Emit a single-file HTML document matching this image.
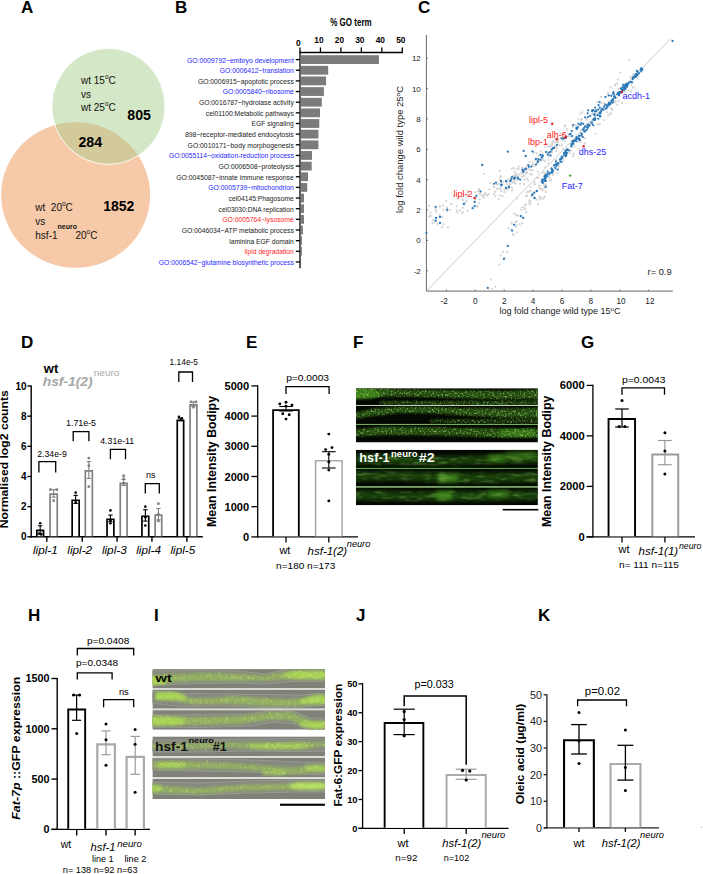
<!DOCTYPE html><html><head><meta charset="utf-8"><style>html,body{margin:0;padding:0;background:#fff;width:703px;height:874px;overflow:hidden;}svg{display:block;}text{font-family:"Liberation Sans",sans-serif;}</style></head><body>
<svg width="703" height="874" viewBox="0 0 703 874">
<text x="21" y="13" font-size="17" font-weight="bold" font-style="normal" fill="#000" text-anchor="start" >A</text>
<text x="175" y="13" font-size="17" font-weight="bold" font-style="normal" fill="#000" text-anchor="start" >B</text>
<text x="418" y="13" font-size="17" font-weight="bold" font-style="normal" fill="#000" text-anchor="start" >C</text>
<text x="21" y="348" font-size="17" font-weight="bold" font-style="normal" fill="#000" text-anchor="start" >D</text>
<text x="246" y="348" font-size="17" font-weight="bold" font-style="normal" fill="#000" text-anchor="start" >E</text>
<text x="353" y="348" font-size="17" font-weight="bold" font-style="normal" fill="#000" text-anchor="start" >F</text>
<text x="581" y="348" font-size="17" font-weight="bold" font-style="normal" fill="#000" text-anchor="start" >G</text>
<text x="28" y="621" font-size="17" font-weight="bold" font-style="normal" fill="#000" text-anchor="start" >H</text>
<text x="154" y="621" font-size="17" font-weight="bold" font-style="normal" fill="#000" text-anchor="start" >I</text>
<text x="356" y="621" font-size="17" font-weight="bold" font-style="normal" fill="#000" text-anchor="start" >J</text>
<text x="538" y="621" font-size="17" font-weight="bold" font-style="normal" fill="#000" text-anchor="start" >K</text>
<defs><clipPath id="co"><ellipse cx="75.65" cy="195" rx="74.5" ry="72.8"/></clipPath></defs>
<ellipse cx="75.65" cy="195" rx="74.5" ry="72.8" fill="#f6c9a8"/>
<ellipse cx="108.4" cy="106.4" rx="56.6" ry="58" fill="#d4e7c6"/>
<ellipse cx="108.4" cy="106.4" rx="56.6" ry="58" fill="#d3ca9b" clip-path="url(#co)"/>
<ellipse cx="108.4" cy="106.4" rx="56.6" ry="58" fill="none" stroke="#fff" stroke-width="0.9"/>
<text x="81" y="84.4" font-size="10" fill="#111">wt 15<tspan font-size="6.5" dy="-5">o</tspan><tspan dy="5">C</tspan></text>
<text x="81" y="97.6" font-size="10" font-weight="normal" font-style="normal" fill="#111" text-anchor="start" >vs</text>
<text x="81" y="111.2" font-size="10" fill="#111">wt 25<tspan font-size="6.5" dy="-5">o</tspan><tspan dy="5">C</tspan></text>
<text x="127.3" y="119.6" font-size="14.2" font-weight="bold" font-style="normal" fill="#000" text-anchor="start" >805</text>
<text x="78.4" y="147.0" font-size="14.2" font-weight="bold" font-style="normal" fill="#000" text-anchor="start" >284</text>
<text x="35.3" y="211.3" font-size="10" fill="#111">wt&#160; 20<tspan font-size="6.5" dy="-5">o</tspan><tspan dy="5">C</tspan></text>
<text x="103.2" y="210.9" font-size="14.0" font-weight="bold" font-style="normal" fill="#000" text-anchor="start" >1852</text>
<text x="35.3" y="225" font-size="10" font-weight="normal" font-style="normal" fill="#111" text-anchor="start" >vs</text>
<text x="35.3" y="238.6" font-size="10" fill="#111">hsf-1<tspan font-size="7" font-weight="bold" dy="-10" textLength="19.4" lengthAdjust="spacingAndGlyphs">neuro</tspan><tspan dy="10" dx="-1.5">20</tspan><tspan font-size="6.5" dy="-5">o</tspan><tspan dy="5">C</tspan></text>
<text x="351" y="26.2" font-size="10" font-weight="bold" font-style="normal" fill="#000" text-anchor="middle" textLength="41.5" lengthAdjust="spacingAndGlyphs">% GO term</text>
<line x1="299.4" y1="52.5" x2="402.8" y2="52.5" stroke="#000" stroke-width="1.3" />
<line x1="300.0" y1="47.4" x2="300.0" y2="52.5" stroke="#000" stroke-width="1.3" />
<text x="298.4" y="45.8" font-size="8.4" font-weight="bold" font-style="normal" fill="#000" text-anchor="middle" >0</text>
<line x1="320.46" y1="47.4" x2="320.46" y2="52.5" stroke="#000" stroke-width="1.3" />
<text x="318.96" y="42.8" font-size="8.4" font-weight="bold" font-style="normal" fill="#000" text-anchor="middle" >10</text>
<line x1="340.92" y1="47.4" x2="340.92" y2="52.5" stroke="#000" stroke-width="1.3" />
<text x="339.42" y="42.8" font-size="8.4" font-weight="bold" font-style="normal" fill="#000" text-anchor="middle" >20</text>
<line x1="361.38" y1="47.4" x2="361.38" y2="52.5" stroke="#000" stroke-width="1.3" />
<text x="359.88" y="42.8" font-size="8.4" font-weight="bold" font-style="normal" fill="#000" text-anchor="middle" >30</text>
<line x1="381.84" y1="47.4" x2="381.84" y2="52.5" stroke="#000" stroke-width="1.3" />
<text x="380.34" y="42.8" font-size="8.4" font-weight="bold" font-style="normal" fill="#000" text-anchor="middle" >40</text>
<line x1="402.3" y1="47.4" x2="402.3" y2="52.5" stroke="#000" stroke-width="1.3" />
<text x="400.8" y="42.8" font-size="8.4" font-weight="bold" font-style="normal" fill="#000" text-anchor="middle" >50</text>
<line x1="300" y1="52" x2="300" y2="268.2" stroke="#000" stroke-width="1.3" />
<rect x="300.6" y="55.2" width="78.29999999999998" height="8.8" fill="#7b7b7b" stroke="none" stroke-width="0" />
<line x1="295.8" y1="59.6" x2="300" y2="59.6" stroke="#000" stroke-width="1.3" />
<text x="293.8" y="62.5" font-size="8.0" font-weight="normal" font-style="normal" fill="#1f1fff" text-anchor="end" textLength="106.9" lengthAdjust="spacingAndGlyphs">GO:0009792~embryo development</text>
<rect x="300.6" y="65.85000000000001" width="27.599999999999987" height="8.8" fill="#7b7b7b" stroke="none" stroke-width="0" />
<line x1="295.8" y1="70.25000000000001" x2="300" y2="70.25000000000001" stroke="#000" stroke-width="1.3" />
<text x="293.8" y="73.15000000000002" font-size="8.0" font-weight="normal" font-style="normal" fill="#1f1fff" text-anchor="end" textLength="74.0" lengthAdjust="spacingAndGlyphs">GO:0006412~translation</text>
<rect x="300.6" y="76.5" width="25.50000000000002" height="8.8" fill="#7b7b7b" stroke="none" stroke-width="0" />
<line x1="295.8" y1="80.9" x2="300" y2="80.9" stroke="#000" stroke-width="1.3" />
<text x="293.8" y="83.80000000000001" font-size="8.0" font-weight="normal" font-style="normal" fill="#222" text-anchor="end" textLength="95.9" lengthAdjust="spacingAndGlyphs">GO:0006915~apoptotic process</text>
<rect x="300.6" y="87.15" width="23.299999999999976" height="8.8" fill="#7b7b7b" stroke="none" stroke-width="0" />
<line x1="295.8" y1="91.55000000000001" x2="300" y2="91.55000000000001" stroke="#000" stroke-width="1.3" />
<text x="293.8" y="94.45000000000002" font-size="8.0" font-weight="normal" font-style="normal" fill="#1f1fff" text-anchor="end" textLength="71.0" lengthAdjust="spacingAndGlyphs">GO:0005840~ribosome</text>
<rect x="300.6" y="97.80000000000001" width="21.20000000000001" height="8.8" fill="#7b7b7b" stroke="none" stroke-width="0" />
<line x1="295.8" y1="102.20000000000002" x2="300" y2="102.20000000000002" stroke="#000" stroke-width="1.3" />
<text x="293.8" y="105.10000000000002" font-size="8.0" font-weight="normal" font-style="normal" fill="#222" text-anchor="end" textLength="94.9" lengthAdjust="spacingAndGlyphs">GO:0016787~hydrolase activity</text>
<rect x="300.6" y="108.45" width="19.4" height="8.8" fill="#7b7b7b" stroke="none" stroke-width="0" />
<line x1="295.8" y1="112.85000000000001" x2="300" y2="112.85000000000001" stroke="#000" stroke-width="1.3" />
<text x="293.8" y="115.75000000000001" font-size="8.0" font-weight="normal" font-style="normal" fill="#222" text-anchor="end" textLength="88.0" lengthAdjust="spacingAndGlyphs">cel01100:Metabolic pathways</text>
<rect x="300.6" y="119.10000000000001" width="18.70000000000001" height="8.8" fill="#7b7b7b" stroke="none" stroke-width="0" />
<line x1="295.8" y1="123.50000000000001" x2="300" y2="123.50000000000001" stroke="#000" stroke-width="1.3" />
<text x="293.8" y="126.40000000000002" font-size="8.0" font-weight="normal" font-style="normal" fill="#222" text-anchor="end" textLength="42.2" lengthAdjust="spacingAndGlyphs">EGF signaling</text>
<rect x="300.6" y="129.75" width="17.799999999999976" height="8.8" fill="#7b7b7b" stroke="none" stroke-width="0" />
<line x1="295.8" y1="134.15" x2="300" y2="134.15" stroke="#000" stroke-width="1.3" />
<text x="293.8" y="137.05" font-size="8.0" font-weight="normal" font-style="normal" fill="#222" text-anchor="end" textLength="108.9" lengthAdjust="spacingAndGlyphs">898~receptor-mediated endocytosis</text>
<rect x="300.6" y="140.4" width="17.799999999999976" height="8.8" fill="#7b7b7b" stroke="none" stroke-width="0" />
<line x1="295.8" y1="144.8" x2="300" y2="144.8" stroke="#000" stroke-width="1.3" />
<text x="293.8" y="147.70000000000002" font-size="8.0" font-weight="normal" font-style="normal" fill="#222" text-anchor="end" textLength="106.2" lengthAdjust="spacingAndGlyphs">GO:0010171~body morphogenesis</text>
<rect x="300.6" y="151.05" width="11.4" height="8.8" fill="#7b7b7b" stroke="none" stroke-width="0" />
<line x1="295.8" y1="155.45000000000002" x2="300" y2="155.45000000000002" stroke="#000" stroke-width="1.3" />
<text x="293.8" y="158.35000000000002" font-size="8.0" font-weight="normal" font-style="normal" fill="#1f1fff" text-anchor="end" textLength="124.9" lengthAdjust="spacingAndGlyphs">GO:0055114~oxidation-reduction process</text>
<rect x="300.6" y="161.7" width="11.099999999999989" height="8.8" fill="#7b7b7b" stroke="none" stroke-width="0" />
<line x1="295.8" y1="166.1" x2="300" y2="166.1" stroke="#000" stroke-width="1.3" />
<text x="293.8" y="169.0" font-size="8.0" font-weight="normal" font-style="normal" fill="#222" text-anchor="end" textLength="75.2" lengthAdjust="spacingAndGlyphs">GO:0006508~proteolysis</text>
<rect x="300.6" y="172.35000000000002" width="7.4" height="8.8" fill="#7b7b7b" stroke="none" stroke-width="0" />
<line x1="295.8" y1="176.75000000000003" x2="300" y2="176.75000000000003" stroke="#000" stroke-width="1.3" />
<text x="293.8" y="179.65000000000003" font-size="8.0" font-weight="normal" font-style="normal" fill="#222" text-anchor="end" textLength="117.5" lengthAdjust="spacingAndGlyphs">GO:0045087~innate immune response</text>
<rect x="300.6" y="183.0" width="6.599999999999989" height="8.8" fill="#7b7b7b" stroke="none" stroke-width="0" />
<line x1="295.8" y1="187.4" x2="300" y2="187.4" stroke="#000" stroke-width="1.3" />
<text x="293.8" y="190.3" font-size="8.0" font-weight="normal" font-style="normal" fill="#1f1fff" text-anchor="end" textLength="85.5" lengthAdjust="spacingAndGlyphs">GO:0005739~mitochondrion</text>
<rect x="300.6" y="193.65000000000003" width="3.4" height="8.8" fill="#7b7b7b" stroke="none" stroke-width="0" />
<line x1="295.8" y1="198.05000000000004" x2="300" y2="198.05000000000004" stroke="#000" stroke-width="1.3" />
<text x="293.8" y="200.95000000000005" font-size="8.0" font-weight="normal" font-style="normal" fill="#222" text-anchor="end" textLength="65.2" lengthAdjust="spacingAndGlyphs">cel04145:Phagosome</text>
<rect x="300.6" y="204.3" width="3.4" height="8.8" fill="#7b7b7b" stroke="none" stroke-width="0" />
<line x1="295.8" y1="208.70000000000002" x2="300" y2="208.70000000000002" stroke="#000" stroke-width="1.3" />
<text x="293.8" y="211.60000000000002" font-size="8.0" font-weight="normal" font-style="normal" fill="#222" text-anchor="end" textLength="75.2" lengthAdjust="spacingAndGlyphs">cel03030:DNA replication</text>
<rect x="300.6" y="214.95" width="3.4" height="8.8" fill="#7b7b7b" stroke="none" stroke-width="0" />
<line x1="295.8" y1="219.35" x2="300" y2="219.35" stroke="#000" stroke-width="1.3" />
<text x="293.8" y="222.25" font-size="8.0" font-weight="normal" font-style="normal" fill="#ff1f1f" text-anchor="end" textLength="71.6" lengthAdjust="spacingAndGlyphs">GO:0005764~lysosome</text>
<rect x="300.6" y="225.60000000000002" width="2.299999999999977" height="8.8" fill="#7b7b7b" stroke="none" stroke-width="0" />
<line x1="295.8" y1="230.00000000000003" x2="300" y2="230.00000000000003" stroke="#000" stroke-width="1.3" />
<text x="293.8" y="232.90000000000003" font-size="8.0" font-weight="normal" font-style="normal" fill="#222" text-anchor="end" textLength="112.1" lengthAdjust="spacingAndGlyphs">GO:0046034~ATP metabolic process</text>
<rect x="300.6" y="236.25" width="1.2999999999999772" height="8.8" fill="#7b7b7b" stroke="none" stroke-width="0" />
<line x1="295.8" y1="240.65" x2="300" y2="240.65" stroke="#000" stroke-width="1.3" />
<text x="293.8" y="243.55" font-size="8.0" font-weight="normal" font-style="normal" fill="#222" text-anchor="end" textLength="64.6" lengthAdjust="spacingAndGlyphs">laminina EGF domain</text>
<rect x="300.6" y="246.90000000000003" width="1.2999999999999772" height="8.8" fill="#7b7b7b" stroke="none" stroke-width="0" />
<line x1="295.8" y1="251.30000000000004" x2="300" y2="251.30000000000004" stroke="#000" stroke-width="1.3" />
<text x="293.8" y="254.20000000000005" font-size="8.0" font-weight="normal" font-style="normal" fill="#ff1f1f" text-anchor="end" textLength="49.2" lengthAdjust="spacingAndGlyphs">lipid degradation</text>
<rect x="300.6" y="257.55" width="0.5000000000000228" height="8.8" fill="#7b7b7b" stroke="none" stroke-width="0" />
<line x1="295.8" y1="261.95" x2="300" y2="261.95" stroke="#000" stroke-width="1.3" />
<text x="293.8" y="264.84999999999997" font-size="8.0" font-weight="normal" font-style="normal" fill="#1f1fff" text-anchor="end" textLength="135.0" lengthAdjust="spacingAndGlyphs">GO:0006542~glutamine biosynthetic process</text>
<line x1="426.4" y1="35.0" x2="426.4" y2="291.1" stroke="#555" stroke-width="0.9" />
<line x1="426.4" y1="291.1" x2="672.8" y2="291.1" stroke="#555" stroke-width="0.9" />
<line x1="426.4" y1="270.76" x2="428" y2="270.76" stroke="#555" stroke-width="0.8" />
<text x="420.8" y="273.65999999999997" font-size="8" font-weight="normal" font-style="normal" fill="#222" text-anchor="end" >-2</text>
<line x1="426.4" y1="240.4" x2="428" y2="240.4" stroke="#555" stroke-width="0.8" />
<text x="420.8" y="243.3" font-size="8" font-weight="normal" font-style="normal" fill="#222" text-anchor="end" >0</text>
<line x1="426.4" y1="210.04000000000002" x2="428" y2="210.04000000000002" stroke="#555" stroke-width="0.8" />
<text x="420.8" y="212.94000000000003" font-size="8" font-weight="normal" font-style="normal" fill="#222" text-anchor="end" >2</text>
<line x1="426.4" y1="179.68" x2="428" y2="179.68" stroke="#555" stroke-width="0.8" />
<text x="420.8" y="182.58" font-size="8" font-weight="normal" font-style="normal" fill="#222" text-anchor="end" >4</text>
<line x1="426.4" y1="149.32" x2="428" y2="149.32" stroke="#555" stroke-width="0.8" />
<text x="420.8" y="152.22" font-size="8" font-weight="normal" font-style="normal" fill="#222" text-anchor="end" >6</text>
<line x1="426.4" y1="118.96000000000001" x2="428" y2="118.96000000000001" stroke="#555" stroke-width="0.8" />
<text x="420.8" y="121.86000000000001" font-size="8" font-weight="normal" font-style="normal" fill="#222" text-anchor="end" >8</text>
<line x1="426.4" y1="88.6" x2="428" y2="88.6" stroke="#555" stroke-width="0.8" />
<text x="420.8" y="91.5" font-size="8" font-weight="normal" font-style="normal" fill="#222" text-anchor="end" >10</text>
<line x1="426.4" y1="58.24000000000001" x2="428" y2="58.24000000000001" stroke="#555" stroke-width="0.8" />
<text x="420.8" y="61.14000000000001" font-size="8" font-weight="normal" font-style="normal" fill="#222" text-anchor="end" >12</text>
<line x1="446.40000000000003" y1="289.5" x2="446.40000000000003" y2="291.1" stroke="#555" stroke-width="0.8" />
<text x="444.1" y="303.6" font-size="8.2" font-weight="normal" font-style="normal" fill="#222" text-anchor="middle" >-2</text>
<line x1="475.3" y1="289.5" x2="475.3" y2="291.1" stroke="#555" stroke-width="0.8" />
<text x="475.3" y="303.6" font-size="8.2" font-weight="normal" font-style="normal" fill="#222" text-anchor="middle" >0</text>
<line x1="504.2" y1="289.5" x2="504.2" y2="291.1" stroke="#555" stroke-width="0.8" />
<text x="504.2" y="303.6" font-size="8.2" font-weight="normal" font-style="normal" fill="#222" text-anchor="middle" >2</text>
<line x1="533.1" y1="289.5" x2="533.1" y2="291.1" stroke="#555" stroke-width="0.8" />
<text x="533.1" y="303.6" font-size="8.2" font-weight="normal" font-style="normal" fill="#222" text-anchor="middle" >4</text>
<line x1="562.0" y1="289.5" x2="562.0" y2="291.1" stroke="#555" stroke-width="0.8" />
<text x="562.0" y="303.6" font-size="8.2" font-weight="normal" font-style="normal" fill="#222" text-anchor="middle" >6</text>
<line x1="590.9" y1="289.5" x2="590.9" y2="291.1" stroke="#555" stroke-width="0.8" />
<text x="590.9" y="303.6" font-size="8.2" font-weight="normal" font-style="normal" fill="#222" text-anchor="middle" >8</text>
<line x1="619.8" y1="289.5" x2="619.8" y2="291.1" stroke="#555" stroke-width="0.8" />
<text x="621.0" y="303.6" font-size="8.2" font-weight="normal" font-style="normal" fill="#222" text-anchor="middle" >10</text>
<line x1="648.7" y1="289.5" x2="648.7" y2="291.1" stroke="#555" stroke-width="0.8" />
<text x="649.9000000000001" y="303.6" font-size="8.2" font-weight="normal" font-style="normal" fill="#222" text-anchor="middle" >12</text>
<line x1="426.4" y1="291.1" x2="670.5" y2="38.8" stroke="#aaa" stroke-width="0.6" />
<text transform="translate(403.2,149.5) rotate(-90)" font-size="8.6" fill="#222" text-anchor="middle" textLength="127" lengthAdjust="spacingAndGlyphs">log fold change wild type 25<tspan font-size="6" dy="-3.5">o</tspan><tspan dy="3.5">C</tspan></text>
<text x="560" y="314" font-size="9" fill="#222" text-anchor="middle">log fold change wild type 15<tspan font-size="6" dy="-3.5">o</tspan><tspan dy="3.5">C</tspan></text>
<text x="647.6" y="274.6" font-size="9.3" font-weight="normal" font-style="normal" fill="#222" text-anchor="start" >r= 0.9</text>
<circle cx="597.87" cy="113.68" r="1.15" fill="#d6d6d6" />
<circle cx="549.13" cy="155.80" r="1.15" fill="#d6d6d6" />
<circle cx="601.18" cy="110.33" r="1.15" fill="#d6d6d6" />
<circle cx="549.36" cy="145.96" r="1.15" fill="#d6d6d6" />
<circle cx="586.02" cy="126.79" r="1.15" fill="#d6d6d6" />
<circle cx="617.21" cy="83.55" r="1.15" fill="#d6d6d6" />
<circle cx="568.79" cy="136.45" r="1.15" fill="#d6d6d6" />
<circle cx="529.43" cy="162.03" r="1.15" fill="#d6d6d6" />
<circle cx="563.15" cy="149.00" r="1.15" fill="#d6d6d6" />
<circle cx="586.36" cy="120.19" r="1.15" fill="#d6d6d6" />
<circle cx="530.05" cy="174.31" r="1.15" fill="#d6d6d6" />
<circle cx="596.00" cy="115.37" r="1.15" fill="#d6d6d6" />
<circle cx="557.03" cy="148.38" r="1.15" fill="#d6d6d6" />
<circle cx="579.02" cy="124.88" r="1.15" fill="#d6d6d6" />
<circle cx="589.50" cy="122.16" r="1.15" fill="#d6d6d6" />
<circle cx="514.42" cy="175.79" r="1.15" fill="#d6d6d6" />
<circle cx="581.88" cy="118.97" r="1.15" fill="#d6d6d6" />
<circle cx="535.16" cy="165.07" r="1.15" fill="#d6d6d6" />
<circle cx="515.96" cy="183.69" r="1.15" fill="#d6d6d6" />
<circle cx="562.53" cy="140.13" r="1.15" fill="#d6d6d6" />
<circle cx="525.90" cy="169.05" r="1.15" fill="#d6d6d6" />
<circle cx="545.82" cy="152.38" r="1.15" fill="#d6d6d6" />
<circle cx="515.29" cy="175.34" r="1.15" fill="#d6d6d6" />
<circle cx="561.86" cy="145.52" r="1.15" fill="#d6d6d6" />
<circle cx="575.38" cy="125.01" r="1.15" fill="#d6d6d6" />
<circle cx="537.20" cy="160.49" r="1.15" fill="#d6d6d6" />
<circle cx="555.36" cy="146.64" r="1.15" fill="#d6d6d6" />
<circle cx="541.61" cy="158.63" r="1.15" fill="#d6d6d6" />
<circle cx="601.52" cy="102.93" r="1.15" fill="#d6d6d6" />
<circle cx="551.94" cy="143.01" r="1.15" fill="#d6d6d6" />
<circle cx="521.70" cy="172.67" r="1.15" fill="#d6d6d6" />
<circle cx="570.51" cy="136.68" r="1.15" fill="#d6d6d6" />
<circle cx="615.28" cy="85.65" r="1.15" fill="#d6d6d6" />
<circle cx="600.13" cy="112.77" r="1.15" fill="#d6d6d6" />
<circle cx="581.03" cy="119.88" r="1.15" fill="#d6d6d6" />
<circle cx="551.46" cy="145.63" r="1.15" fill="#d6d6d6" />
<circle cx="572.53" cy="126.97" r="1.15" fill="#d6d6d6" />
<circle cx="615.16" cy="84.74" r="1.15" fill="#d6d6d6" />
<circle cx="549.48" cy="152.18" r="1.15" fill="#d6d6d6" />
<circle cx="608.25" cy="95.43" r="1.15" fill="#d6d6d6" />
<circle cx="572.74" cy="131.55" r="1.15" fill="#d6d6d6" />
<circle cx="578.09" cy="122.71" r="1.15" fill="#d6d6d6" />
<circle cx="608.02" cy="92.87" r="1.15" fill="#d6d6d6" />
<circle cx="552.16" cy="151.93" r="1.15" fill="#d6d6d6" />
<circle cx="543.02" cy="154.33" r="1.15" fill="#d6d6d6" />
<circle cx="616.81" cy="97.69" r="1.15" fill="#d6d6d6" />
<circle cx="610.45" cy="87.50" r="1.15" fill="#d6d6d6" />
<circle cx="576.00" cy="129.55" r="1.15" fill="#d6d6d6" />
<circle cx="565.21" cy="125.26" r="1.15" fill="#d6d6d6" />
<circle cx="556.45" cy="151.12" r="1.15" fill="#d6d6d6" />
<circle cx="564.72" cy="126.57" r="1.15" fill="#d6d6d6" />
<circle cx="542.46" cy="158.39" r="1.15" fill="#d6d6d6" />
<circle cx="578.80" cy="125.76" r="1.15" fill="#d6d6d6" />
<circle cx="559.49" cy="145.11" r="1.15" fill="#d6d6d6" />
<circle cx="601.03" cy="96.96" r="1.15" fill="#d6d6d6" />
<circle cx="512.86" cy="182.65" r="1.15" fill="#d6d6d6" />
<circle cx="612.78" cy="93.92" r="1.15" fill="#d6d6d6" />
<circle cx="596.16" cy="109.22" r="1.15" fill="#d6d6d6" />
<circle cx="528.20" cy="165.03" r="1.15" fill="#d6d6d6" />
<circle cx="618.59" cy="89.18" r="1.15" fill="#d6d6d6" />
<circle cx="562.86" cy="134.07" r="1.15" fill="#d6d6d6" />
<circle cx="581.31" cy="129.64" r="1.15" fill="#d6d6d6" />
<circle cx="524.23" cy="176.51" r="1.15" fill="#d6d6d6" />
<circle cx="593.83" cy="113.33" r="1.15" fill="#d6d6d6" />
<circle cx="547.85" cy="146.79" r="1.15" fill="#d6d6d6" />
<circle cx="543.59" cy="160.26" r="1.15" fill="#d6d6d6" />
<circle cx="550.55" cy="151.10" r="1.15" fill="#d6d6d6" />
<circle cx="592.17" cy="114.23" r="1.15" fill="#d6d6d6" />
<circle cx="538.78" cy="159.80" r="1.15" fill="#d6d6d6" />
<circle cx="560.80" cy="133.60" r="1.15" fill="#d6d6d6" />
<circle cx="552.41" cy="172.50" r="1.15" fill="#d6d6d6" />
<circle cx="603.88" cy="103.25" r="1.15" fill="#d6d6d6" />
<circle cx="599.59" cy="124.21" r="1.15" fill="#d6d6d6" />
<circle cx="575.00" cy="138.03" r="1.15" fill="#d6d6d6" />
<circle cx="593.08" cy="119.28" r="1.15" fill="#d6d6d6" />
<circle cx="610.62" cy="113.24" r="1.15" fill="#d6d6d6" />
<circle cx="556.15" cy="160.24" r="1.15" fill="#d6d6d6" />
<circle cx="566.22" cy="156.29" r="1.15" fill="#d6d6d6" />
<circle cx="630.34" cy="77.05" r="1.15" fill="#d6d6d6" />
<circle cx="551.24" cy="180.06" r="1.15" fill="#d6d6d6" />
<circle cx="557.45" cy="173.30" r="1.15" fill="#d6d6d6" />
<circle cx="539.89" cy="196.68" r="1.15" fill="#d6d6d6" />
<circle cx="628.32" cy="90.60" r="1.15" fill="#d6d6d6" />
<circle cx="612.00" cy="108.82" r="1.15" fill="#d6d6d6" />
<circle cx="590.41" cy="124.52" r="1.15" fill="#d6d6d6" />
<circle cx="631.15" cy="84.95" r="1.15" fill="#d6d6d6" />
<circle cx="598.71" cy="114.21" r="1.15" fill="#d6d6d6" />
<circle cx="637.85" cy="75.96" r="1.15" fill="#d6d6d6" />
<circle cx="545.63" cy="179.46" r="1.15" fill="#d6d6d6" />
<circle cx="594.07" cy="126.03" r="1.15" fill="#d6d6d6" />
<circle cx="553.72" cy="173.07" r="1.15" fill="#d6d6d6" />
<circle cx="597.53" cy="124.50" r="1.15" fill="#d6d6d6" />
<circle cx="612.10" cy="110.34" r="1.15" fill="#d6d6d6" />
<circle cx="539.75" cy="197.72" r="1.15" fill="#d6d6d6" />
<circle cx="636.84" cy="76.56" r="1.15" fill="#d6d6d6" />
<circle cx="567.61" cy="149.19" r="1.15" fill="#d6d6d6" />
<circle cx="633.53" cy="87.19" r="1.15" fill="#d6d6d6" />
<circle cx="557.93" cy="169.33" r="1.15" fill="#d6d6d6" />
<circle cx="584.76" cy="143.07" r="1.15" fill="#d6d6d6" />
<circle cx="544.02" cy="181.51" r="1.15" fill="#d6d6d6" />
<circle cx="543.16" cy="180.71" r="1.15" fill="#d6d6d6" />
<circle cx="549.57" cy="177.85" r="1.15" fill="#d6d6d6" />
<circle cx="615.26" cy="102.17" r="1.15" fill="#d6d6d6" />
<circle cx="612.89" cy="99.15" r="1.15" fill="#d6d6d6" />
<circle cx="610.38" cy="114.47" r="1.15" fill="#d6d6d6" />
<circle cx="633.25" cy="74.15" r="1.15" fill="#d6d6d6" />
<circle cx="637.69" cy="78.63" r="1.15" fill="#d6d6d6" />
<circle cx="544.30" cy="180.72" r="1.15" fill="#d6d6d6" />
<circle cx="555.47" cy="167.77" r="1.15" fill="#d6d6d6" />
<circle cx="573.68" cy="153.76" r="1.15" fill="#d6d6d6" />
<circle cx="613.62" cy="100.19" r="1.15" fill="#d6d6d6" />
<circle cx="542.18" cy="190.25" r="1.15" fill="#d6d6d6" />
<circle cx="573.76" cy="142.10" r="1.15" fill="#d6d6d6" />
<circle cx="545.84" cy="184.64" r="1.15" fill="#d6d6d6" />
<circle cx="607.20" cy="112.04" r="1.15" fill="#d6d6d6" />
<circle cx="586.80" cy="118.79" r="1.15" fill="#d6d6d6" />
<circle cx="540.92" cy="189.26" r="1.15" fill="#d6d6d6" />
<circle cx="615.44" cy="101.10" r="1.15" fill="#d6d6d6" />
<circle cx="545.76" cy="184.89" r="1.15" fill="#d6d6d6" />
<circle cx="585.01" cy="138.47" r="1.15" fill="#d6d6d6" />
<circle cx="632.63" cy="75.08" r="1.15" fill="#d6d6d6" />
<circle cx="574.51" cy="146.53" r="1.15" fill="#d6d6d6" />
<circle cx="608.62" cy="101.53" r="1.15" fill="#d6d6d6" />
<circle cx="618.61" cy="100.89" r="1.15" fill="#d6d6d6" />
<circle cx="569.62" cy="153.20" r="1.15" fill="#d6d6d6" />
<circle cx="625.00" cy="91.81" r="1.15" fill="#d6d6d6" />
<circle cx="578.70" cy="140.25" r="1.15" fill="#d6d6d6" />
<circle cx="558.88" cy="165.83" r="1.15" fill="#d6d6d6" />
<circle cx="562.47" cy="162.01" r="1.15" fill="#d6d6d6" />
<circle cx="543.51" cy="198.41" r="1.15" fill="#d6d6d6" />
<circle cx="500.37" cy="184.30" r="1.15" fill="#d6d6d6" />
<circle cx="479.53" cy="193.56" r="1.15" fill="#d6d6d6" />
<circle cx="475.43" cy="198.97" r="1.15" fill="#d6d6d6" />
<circle cx="536.57" cy="153.03" r="1.15" fill="#d6d6d6" />
<circle cx="476.13" cy="197.20" r="1.15" fill="#d6d6d6" />
<circle cx="429.82" cy="216.86" r="1.15" fill="#d6d6d6" />
<circle cx="479.06" cy="189.26" r="1.15" fill="#d6d6d6" />
<circle cx="497.06" cy="184.51" r="1.15" fill="#d6d6d6" />
<circle cx="558.55" cy="139.34" r="1.15" fill="#d6d6d6" />
<circle cx="487.10" cy="195.59" r="1.15" fill="#d6d6d6" />
<circle cx="465.13" cy="202.76" r="1.15" fill="#d6d6d6" />
<circle cx="555.92" cy="146.49" r="1.15" fill="#d6d6d6" />
<circle cx="434.74" cy="222.03" r="1.15" fill="#d6d6d6" />
<circle cx="480.39" cy="194.55" r="1.15" fill="#d6d6d6" />
<circle cx="507.38" cy="189.66" r="1.15" fill="#d6d6d6" />
<circle cx="548.88" cy="156.51" r="1.15" fill="#d6d6d6" />
<circle cx="432.46" cy="223.02" r="1.15" fill="#d6d6d6" />
<circle cx="430.82" cy="215.65" r="1.15" fill="#d6d6d6" />
<circle cx="545.10" cy="161.47" r="1.15" fill="#d6d6d6" />
<circle cx="538.57" cy="156.43" r="1.15" fill="#d6d6d6" />
<circle cx="561.87" cy="140.46" r="1.15" fill="#d6d6d6" />
<circle cx="529.24" cy="167.16" r="1.15" fill="#d6d6d6" />
<circle cx="532.56" cy="170.15" r="1.15" fill="#d6d6d6" />
<circle cx="484.34" cy="173.96" r="1.15" fill="#d6d6d6" />
<circle cx="456.74" cy="210.56" r="1.15" fill="#d6d6d6" />
<circle cx="484.25" cy="195.08" r="1.15" fill="#d6d6d6" />
<circle cx="466.12" cy="195.60" r="1.15" fill="#d6d6d6" />
<circle cx="517.18" cy="174.69" r="1.15" fill="#d6d6d6" />
<circle cx="489.12" cy="189.37" r="1.15" fill="#d6d6d6" />
<circle cx="437.55" cy="223.99" r="1.15" fill="#d6d6d6" />
<circle cx="546.59" cy="144.12" r="1.15" fill="#d6d6d6" />
<circle cx="454.03" cy="196.09" r="1.15" fill="#d6d6d6" />
<circle cx="556.73" cy="141.33" r="1.15" fill="#d6d6d6" />
<circle cx="508.10" cy="179.49" r="1.15" fill="#d6d6d6" />
<circle cx="551.27" cy="144.90" r="1.15" fill="#d6d6d6" />
<circle cx="553.61" cy="141.99" r="1.15" fill="#d6d6d6" />
<circle cx="485.27" cy="192.92" r="1.15" fill="#d6d6d6" />
<circle cx="463.46" cy="203.97" r="1.15" fill="#d6d6d6" />
<circle cx="531.79" cy="174.52" r="1.15" fill="#d6d6d6" />
<circle cx="448.04" cy="227.37" r="1.15" fill="#d6d6d6" />
<circle cx="521.95" cy="176.55" r="1.15" fill="#d6d6d6" />
<circle cx="439.72" cy="206.19" r="1.15" fill="#d6d6d6" />
<circle cx="478.01" cy="190.88" r="1.15" fill="#d6d6d6" />
<circle cx="477.16" cy="205.45" r="1.15" fill="#d6d6d6" />
<circle cx="557.41" cy="140.82" r="1.15" fill="#d6d6d6" />
<circle cx="459.99" cy="210.33" r="1.15" fill="#d6d6d6" />
<circle cx="500.90" cy="188.67" r="1.15" fill="#d6d6d6" />
<circle cx="525.91" cy="167.19" r="1.15" fill="#d6d6d6" />
<circle cx="522.46" cy="168.81" r="1.15" fill="#d6d6d6" />
<circle cx="428.71" cy="216.35" r="1.15" fill="#d6d6d6" />
<circle cx="495.37" cy="196.05" r="1.15" fill="#d6d6d6" />
<circle cx="509.66" cy="181.11" r="1.15" fill="#d6d6d6" />
<circle cx="494.88" cy="191.76" r="1.15" fill="#d6d6d6" />
<circle cx="432.76" cy="220.17" r="1.15" fill="#d6d6d6" />
<circle cx="430.49" cy="212.71" r="1.15" fill="#d6d6d6" />
<circle cx="467.63" cy="210.77" r="1.15" fill="#d6d6d6" />
<circle cx="551.89" cy="144.92" r="1.15" fill="#d6d6d6" />
<circle cx="477.40" cy="206.91" r="1.15" fill="#d6d6d6" />
<circle cx="553.57" cy="147.92" r="1.15" fill="#d6d6d6" />
<circle cx="555.23" cy="138.89" r="1.15" fill="#d6d6d6" />
<circle cx="450.01" cy="209.85" r="1.15" fill="#d6d6d6" />
<circle cx="552.85" cy="140.64" r="1.15" fill="#d6d6d6" />
<circle cx="526.55" cy="168.41" r="1.15" fill="#d6d6d6" />
<circle cx="498.67" cy="198.93" r="1.15" fill="#d6d6d6" />
<circle cx="467.82" cy="192.50" r="1.15" fill="#d6d6d6" />
<circle cx="501.76" cy="184.44" r="1.15" fill="#d6d6d6" />
<circle cx="474.78" cy="201.22" r="1.15" fill="#d6d6d6" />
<circle cx="494.04" cy="194.00" r="1.15" fill="#d6d6d6" />
<circle cx="488.62" cy="194.05" r="1.15" fill="#d6d6d6" />
<circle cx="435.65" cy="209.73" r="1.15" fill="#d6d6d6" />
<circle cx="446.94" cy="207.51" r="1.15" fill="#d6d6d6" />
<circle cx="557.64" cy="142.19" r="1.15" fill="#d6d6d6" />
<circle cx="532.93" cy="162.54" r="1.15" fill="#d6d6d6" />
<circle cx="527.22" cy="172.16" r="1.15" fill="#d6d6d6" />
<circle cx="511.70" cy="168.59" r="1.15" fill="#d6d6d6" />
<circle cx="479.84" cy="199.29" r="1.15" fill="#d6d6d6" />
<circle cx="463.01" cy="207.82" r="1.15" fill="#d6d6d6" />
<circle cx="545.41" cy="167.21" r="1.15" fill="#d6d6d6" />
<circle cx="451.39" cy="203.83" r="1.15" fill="#d6d6d6" />
<circle cx="446.07" cy="200.98" r="1.15" fill="#d6d6d6" />
<circle cx="503.03" cy="182.04" r="1.15" fill="#d6d6d6" />
<circle cx="428.91" cy="205.71" r="1.15" fill="#d6d6d6" />
<circle cx="494.05" cy="186.82" r="1.15" fill="#d6d6d6" />
<circle cx="544.71" cy="147.11" r="1.15" fill="#d6d6d6" />
<circle cx="443.40" cy="209.76" r="1.15" fill="#d6d6d6" />
<circle cx="524.52" cy="179.66" r="1.15" fill="#d6d6d6" />
<circle cx="457.38" cy="212.40" r="1.15" fill="#d6d6d6" />
<circle cx="555.15" cy="142.60" r="1.15" fill="#d6d6d6" />
<circle cx="519.54" cy="174.59" r="1.15" fill="#d6d6d6" />
<circle cx="440.09" cy="206.61" r="1.15" fill="#d6d6d6" />
<circle cx="514.81" cy="175.91" r="1.15" fill="#d6d6d6" />
<circle cx="547.50" cy="152.85" r="1.15" fill="#d6d6d6" />
<circle cx="514.04" cy="181.60" r="1.15" fill="#d6d6d6" />
<circle cx="540.99" cy="151.49" r="1.15" fill="#d6d6d6" />
<circle cx="462.37" cy="197.35" r="1.15" fill="#d6d6d6" />
<circle cx="467.75" cy="191.12" r="1.15" fill="#d6d6d6" />
<circle cx="496.92" cy="188.71" r="1.15" fill="#d6d6d6" />
<circle cx="548.83" cy="154.63" r="1.15" fill="#d6d6d6" />
<circle cx="456.70" cy="206.21" r="1.15" fill="#d6d6d6" />
<circle cx="463.01" cy="200.27" r="1.15" fill="#d6d6d6" />
<circle cx="439.47" cy="214.72" r="1.15" fill="#d6d6d6" />
<circle cx="475.02" cy="192.15" r="1.15" fill="#d6d6d6" />
<circle cx="511.15" cy="177.65" r="1.15" fill="#d6d6d6" />
<circle cx="515.05" cy="177.08" r="1.15" fill="#d6d6d6" />
<circle cx="493.63" cy="187.09" r="1.15" fill="#d6d6d6" />
<circle cx="519.96" cy="183.68" r="1.15" fill="#d6d6d6" />
<circle cx="550.19" cy="146.87" r="1.15" fill="#d6d6d6" />
<circle cx="447.11" cy="211.34" r="1.15" fill="#d6d6d6" />
<circle cx="499.66" cy="179.89" r="1.15" fill="#d6d6d6" />
<circle cx="548.59" cy="160.10" r="1.15" fill="#d6d6d6" />
<circle cx="484.00" cy="197.44" r="1.15" fill="#d6d6d6" />
<circle cx="533.01" cy="164.86" r="1.15" fill="#d6d6d6" />
<circle cx="442.11" cy="216.89" r="1.15" fill="#d6d6d6" />
<circle cx="462.45" cy="213.02" r="1.15" fill="#d6d6d6" />
<circle cx="463.17" cy="193.82" r="1.15" fill="#d6d6d6" />
<circle cx="512.19" cy="190.38" r="1.15" fill="#d6d6d6" />
<circle cx="443.27" cy="224.24" r="1.15" fill="#d6d6d6" />
<circle cx="531.08" cy="170.35" r="1.15" fill="#d6d6d6" />
<circle cx="512.55" cy="177.52" r="1.15" fill="#d6d6d6" />
<circle cx="541.08" cy="160.92" r="1.15" fill="#d6d6d6" />
<circle cx="558.25" cy="142.12" r="1.15" fill="#d6d6d6" />
<circle cx="479.24" cy="202.94" r="1.15" fill="#d6d6d6" />
<circle cx="462.65" cy="212.27" r="1.15" fill="#d6d6d6" />
<circle cx="482.49" cy="196.24" r="1.15" fill="#d6d6d6" />
<circle cx="436.27" cy="211.95" r="1.15" fill="#d6d6d6" />
<circle cx="523.95" cy="184.19" r="1.15" fill="#d6d6d6" />
<circle cx="436.04" cy="207.69" r="1.15" fill="#d6d6d6" />
<circle cx="468.12" cy="195.17" r="1.15" fill="#d6d6d6" />
<circle cx="533.85" cy="152.91" r="1.15" fill="#d6d6d6" />
<circle cx="548.07" cy="154.80" r="1.15" fill="#d6d6d6" />
<circle cx="483.54" cy="194.55" r="1.15" fill="#d6d6d6" />
<circle cx="458.01" cy="198.41" r="1.15" fill="#d6d6d6" />
<circle cx="466.58" cy="201.09" r="1.15" fill="#d6d6d6" />
<circle cx="442.11" cy="227.13" r="1.15" fill="#d6d6d6" />
<circle cx="554.74" cy="145.88" r="1.15" fill="#d6d6d6" />
<circle cx="490.25" cy="182.90" r="1.15" fill="#d6d6d6" />
<circle cx="443.04" cy="205.43" r="1.15" fill="#d6d6d6" />
<circle cx="499.83" cy="170.90" r="1.15" fill="#d6d6d6" />
<circle cx="500.55" cy="177.33" r="1.15" fill="#d6d6d6" />
<circle cx="486.41" cy="194.35" r="1.15" fill="#d6d6d6" />
<circle cx="507.33" cy="251.89" r="1.15" fill="#d6d6d6" />
<circle cx="490.91" cy="279.58" r="1.15" fill="#d6d6d6" />
<circle cx="499.36" cy="264.59" r="1.15" fill="#d6d6d6" />
<circle cx="500.59" cy="255.48" r="1.15" fill="#d6d6d6" />
<circle cx="495.30" cy="286.59" r="1.15" fill="#d6d6d6" />
<circle cx="502.86" cy="251.88" r="1.15" fill="#d6d6d6" />
<circle cx="504.81" cy="257.87" r="1.15" fill="#d6d6d6" />
<circle cx="511.37" cy="229.50" r="1.15" fill="#d6d6d6" />
<circle cx="491.70" cy="289.34" r="1.15" fill="#d6d6d6" />
<circle cx="508.33" cy="228.14" r="1.15" fill="#d6d6d6" />
<circle cx="515.99" cy="226.86" r="1.15" fill="#d6d6d6" />
<circle cx="526.87" cy="192.30" r="1.15" fill="#d6d6d6" />
<circle cx="516.73" cy="225.24" r="1.15" fill="#d6d6d6" />
<circle cx="537.08" cy="199.72" r="1.15" fill="#d6d6d6" />
<circle cx="549.30" cy="175.59" r="1.15" fill="#d6d6d6" />
<circle cx="525.89" cy="204.75" r="1.15" fill="#d6d6d6" />
<circle cx="529.63" cy="200.39" r="1.15" fill="#d6d6d6" />
<circle cx="516.98" cy="232.60" r="1.15" fill="#d6d6d6" />
<circle cx="543.00" cy="172.39" r="1.15" fill="#d6d6d6" />
<circle cx="524.97" cy="209.27" r="1.15" fill="#d6d6d6" />
<circle cx="529.67" cy="204.35" r="1.15" fill="#d6d6d6" />
<circle cx="526.16" cy="212.28" r="1.15" fill="#d6d6d6" />
<circle cx="542.27" cy="198.39" r="1.15" fill="#d6d6d6" />
<circle cx="518.33" cy="215.61" r="1.15" fill="#d6d6d6" />
<circle cx="545.71" cy="192.02" r="1.15" fill="#d6d6d6" />
<circle cx="513.30" cy="234.87" r="1.15" fill="#d6d6d6" />
<circle cx="516.61" cy="198.46" r="1.15" fill="#d6d6d6" />
<circle cx="548.39" cy="163.75" r="1.15" fill="#d6d6d6" />
<circle cx="539.65" cy="185.70" r="1.15" fill="#d6d6d6" />
<circle cx="521.35" cy="209.75" r="1.15" fill="#d6d6d6" />
<circle cx="539.89" cy="199.08" r="1.15" fill="#d6d6d6" />
<circle cx="533.26" cy="195.92" r="1.15" fill="#d6d6d6" />
<circle cx="543.30" cy="180.75" r="1.15" fill="#d6d6d6" />
<circle cx="544.27" cy="184.92" r="1.15" fill="#d6d6d6" />
<circle cx="514.09" cy="213.59" r="1.15" fill="#d6d6d6" />
<circle cx="517.82" cy="215.56" r="1.15" fill="#d6d6d6" />
<circle cx="544.64" cy="172.89" r="1.15" fill="#d6d6d6" />
<circle cx="530.43" cy="203.88" r="1.15" fill="#d6d6d6" />
<circle cx="534.04" cy="183.87" r="1.15" fill="#d6d6d6" />
<circle cx="544.69" cy="196.71" r="1.15" fill="#d6d6d6" />
<circle cx="538.04" cy="204.06" r="1.15" fill="#d6d6d6" />
<circle cx="538.19" cy="177.79" r="1.15" fill="#d6d6d6" />
<circle cx="554.32" cy="167.42" r="1.15" fill="#d6d6d6" />
<circle cx="526.16" cy="196.21" r="1.15" fill="#d6d6d6" />
<circle cx="515.29" cy="222.45" r="1.15" fill="#d6d6d6" />
<circle cx="530.01" cy="190.54" r="1.15" fill="#d6d6d6" />
<circle cx="528.28" cy="180.65" r="1.15" fill="#d6d6d6" />
<circle cx="550.20" cy="180.72" r="1.15" fill="#d6d6d6" />
<circle cx="528.88" cy="202.51" r="1.15" fill="#d6d6d6" />
<circle cx="512.57" cy="234.21" r="1.15" fill="#d6d6d6" />
<circle cx="541.49" cy="188.73" r="1.15" fill="#d6d6d6" />
<circle cx="544.49" cy="185.77" r="1.15" fill="#d6d6d6" />
<circle cx="545.80" cy="180.91" r="1.15" fill="#d6d6d6" />
<circle cx="539.96" cy="188.86" r="1.15" fill="#d6d6d6" />
<circle cx="530.65" cy="190.81" r="1.15" fill="#d6d6d6" />
<circle cx="522.28" cy="223.14" r="1.15" fill="#d6d6d6" />
<circle cx="519.75" cy="224.24" r="1.15" fill="#d6d6d6" />
<circle cx="527.28" cy="191.84" r="1.15" fill="#d6d6d6" />
<circle cx="527.13" cy="195.63" r="1.15" fill="#d6d6d6" />
<circle cx="511.72" cy="223.43" r="1.15" fill="#d6d6d6" />
<circle cx="515.97" cy="215.26" r="1.15" fill="#d6d6d6" />
<circle cx="552.94" cy="175.13" r="1.15" fill="#d6d6d6" />
<circle cx="551.50" cy="169.44" r="1.15" fill="#d6d6d6" />
<circle cx="511.72" cy="222.97" r="1.15" fill="#d6d6d6" />
<circle cx="544.24" cy="188.40" r="1.15" fill="#d6d6d6" />
<circle cx="530.99" cy="196.66" r="1.15" fill="#d6d6d6" />
<circle cx="534.70" cy="184.39" r="1.15" fill="#d6d6d6" />
<circle cx="530.51" cy="201.10" r="1.15" fill="#d6d6d6" />
<circle cx="524.20" cy="208.12" r="1.15" fill="#d6d6d6" />
<circle cx="534.70" cy="181.81" r="1.15" fill="#d6d6d6" />
<circle cx="537.19" cy="177.84" r="1.15" fill="#d6d6d6" />
<circle cx="529.08" cy="191.63" r="1.15" fill="#d6d6d6" />
<circle cx="545.18" cy="173.83" r="1.15" fill="#d6d6d6" />
<circle cx="516.78" cy="221.52" r="1.15" fill="#d6d6d6" />
<circle cx="539.20" cy="187.11" r="1.15" fill="#d6d6d6" />
<circle cx="513.19" cy="234.11" r="1.15" fill="#d6d6d6" />
<circle cx="530.63" cy="191.35" r="1.15" fill="#d6d6d6" />
<circle cx="530.91" cy="187.04" r="1.15" fill="#d6d6d6" />
<circle cx="521.98" cy="207.30" r="1.15" fill="#d6d6d6" />
<circle cx="524.54" cy="204.87" r="1.15" fill="#d6d6d6" />
<circle cx="501.13" cy="191.15" r="1.15" fill="#d6d6d6" />
<circle cx="500.79" cy="176.09" r="1.15" fill="#d6d6d6" />
<circle cx="511.82" cy="177.20" r="1.15" fill="#d6d6d6" />
<circle cx="516.99" cy="169.39" r="1.15" fill="#d6d6d6" />
<circle cx="501.24" cy="182.25" r="1.15" fill="#d6d6d6" />
<circle cx="526.72" cy="173.13" r="1.15" fill="#d6d6d6" />
<circle cx="516.61" cy="175.18" r="1.15" fill="#d6d6d6" />
<circle cx="506.86" cy="182.87" r="1.15" fill="#d6d6d6" />
<circle cx="509.36" cy="181.09" r="1.15" fill="#d6d6d6" />
<circle cx="518.75" cy="166.63" r="1.15" fill="#d6d6d6" />
<circle cx="512.01" cy="187.65" r="1.15" fill="#d6d6d6" />
<circle cx="521.67" cy="173.60" r="1.15" fill="#d6d6d6" />
<circle cx="516.55" cy="179.78" r="1.15" fill="#d6d6d6" />
<circle cx="514.55" cy="182.67" r="1.15" fill="#d6d6d6" />
<circle cx="515.46" cy="173.60" r="1.15" fill="#d6d6d6" />
<circle cx="535.08" cy="160.34" r="1.15" fill="#d6d6d6" />
<circle cx="510.24" cy="183.94" r="1.15" fill="#d6d6d6" />
<circle cx="522.57" cy="168.01" r="1.15" fill="#d6d6d6" />
<circle cx="504.58" cy="190.00" r="1.15" fill="#d6d6d6" />
<circle cx="498.77" cy="183.79" r="1.15" fill="#d6d6d6" />
<circle cx="501.69" cy="184.29" r="1.15" fill="#d6d6d6" />
<circle cx="499.90" cy="195.51" r="1.15" fill="#d6d6d6" />
<circle cx="500.51" cy="187.90" r="1.15" fill="#d6d6d6" />
<circle cx="525.44" cy="173.51" r="1.15" fill="#d6d6d6" />
<circle cx="498.46" cy="189.04" r="1.15" fill="#d6d6d6" />
<circle cx="511.38" cy="178.47" r="1.15" fill="#d6d6d6" />
<circle cx="527.04" cy="178.74" r="1.15" fill="#d6d6d6" />
<circle cx="533.46" cy="166.20" r="1.15" fill="#d6d6d6" />
<circle cx="523.83" cy="170.23" r="1.15" fill="#d6d6d6" />
<circle cx="517.54" cy="178.07" r="1.15" fill="#d6d6d6" />
<circle cx="510.83" cy="181.07" r="1.15" fill="#d6d6d6" />
<circle cx="535.35" cy="165.22" r="1.15" fill="#d6d6d6" />
<circle cx="513.04" cy="175.98" r="1.15" fill="#d6d6d6" />
<circle cx="537.73" cy="171.80" r="1.15" fill="#d6d6d6" />
<circle cx="513.89" cy="168.13" r="1.15" fill="#d6d6d6" />
<circle cx="502.62" cy="196.26" r="1.15" fill="#d6d6d6" />
<circle cx="529.38" cy="169.08" r="1.15" fill="#d6d6d6" />
<circle cx="509.02" cy="185.51" r="1.15" fill="#d6d6d6" />
<circle cx="504.49" cy="192.03" r="1.15" fill="#d6d6d6" />
<circle cx="514.40" cy="171.94" r="1.15" fill="#d6d6d6" />
<circle cx="508.05" cy="184.64" r="1.15" fill="#d6d6d6" />
<circle cx="523.57" cy="175.35" r="1.15" fill="#d6d6d6" />
<circle cx="516.68" cy="176.51" r="1.15" fill="#d6d6d6" />
<circle cx="532.45" cy="165.23" r="1.15" fill="#d6d6d6" />
<circle cx="525.54" cy="170.57" r="1.15" fill="#d6d6d6" />
<circle cx="522.16" cy="167.56" r="1.15" fill="#d6d6d6" />
<circle cx="518.81" cy="168.60" r="1.15" fill="#d6d6d6" />
<circle cx="510.26" cy="184.44" r="1.15" fill="#d6d6d6" />
<circle cx="511.66" cy="181.11" r="1.15" fill="#d6d6d6" />
<circle cx="537.47" cy="163.18" r="1.15" fill="#d6d6d6" />
<circle cx="621.21" cy="88.65" r="1.15" fill="#d6d6d6" />
<circle cx="563.27" cy="159.65" r="1.15" fill="#d6d6d6" />
<circle cx="570.98" cy="150.71" r="1.15" fill="#d6d6d6" />
<circle cx="620.02" cy="72.85" r="1.15" fill="#d6d6d6" />
<circle cx="582.28" cy="136.99" r="1.15" fill="#d6d6d6" />
<circle cx="580.11" cy="113.67" r="1.15" fill="#d6d6d6" />
<circle cx="579.45" cy="149.32" r="1.15" fill="#d6d6d6" />
<circle cx="616.96" cy="104.53" r="1.15" fill="#d6d6d6" />
<circle cx="564.74" cy="141.42" r="1.15" fill="#d6d6d6" />
<circle cx="573.07" cy="155.94" r="1.15" fill="#d6d6d6" />
<circle cx="608.17" cy="115.01" r="1.15" fill="#d6d6d6" />
<circle cx="617.93" cy="79.60" r="1.15" fill="#d6d6d6" />
<circle cx="578.20" cy="118.82" r="1.15" fill="#d6d6d6" />
<circle cx="613.52" cy="101.46" r="1.15" fill="#d6d6d6" />
<circle cx="579.16" cy="141.92" r="1.15" fill="#d6d6d6" />
<circle cx="610.58" cy="108.03" r="1.15" fill="#d6d6d6" />
<circle cx="631.22" cy="92.08" r="1.15" fill="#d6d6d6" />
<circle cx="608.22" cy="94.41" r="1.15" fill="#d6d6d6" />
<circle cx="581.09" cy="141.53" r="1.15" fill="#d6d6d6" />
<circle cx="622.16" cy="102.92" r="1.15" fill="#d6d6d6" />
<circle cx="633.00" cy="87.50" r="1.15" fill="#d6d6d6" />
<circle cx="604.06" cy="120.10" r="1.15" fill="#d6d6d6" />
<circle cx="597.35" cy="102.22" r="1.15" fill="#d6d6d6" />
<circle cx="595.52" cy="133.66" r="1.15" fill="#d6d6d6" />
<circle cx="630.63" cy="90.61" r="1.15" fill="#d6d6d6" />
<circle cx="564.34" cy="133.06" r="1.15" fill="#d6d6d6" />
<circle cx="582.33" cy="112.51" r="1.15" fill="#d6d6d6" />
<circle cx="570.47" cy="146.42" r="1.15" fill="#d6d6d6" />
<circle cx="629.25" cy="60.35" r="1.15" fill="#d6d6d6" />
<circle cx="567.05" cy="129.39" r="1.15" fill="#d6d6d6" />
<circle cx="565.79" cy="137.78" r="1.1" fill="#2a78b8" />
<circle cx="594.41" cy="115.33" r="1.1" fill="#2a78b8" />
<circle cx="576.27" cy="128.01" r="1.1" fill="#2a78b8" />
<circle cx="551.70" cy="149.58" r="1.1" fill="#2a78b8" />
<circle cx="594.50" cy="114.03" r="1.1" fill="#2a78b8" />
<circle cx="520.12" cy="179.61" r="1.1" fill="#2a78b8" />
<circle cx="552.00" cy="149.02" r="1.1" fill="#2a78b8" />
<circle cx="561.40" cy="138.29" r="1.1" fill="#2a78b8" />
<circle cx="511.15" cy="179.39" r="1.1" fill="#2a78b8" />
<circle cx="592.08" cy="111.35" r="1.1" fill="#2a78b8" />
<circle cx="578.58" cy="123.98" r="1.1" fill="#2a78b8" />
<circle cx="522.41" cy="169.83" r="1.1" fill="#2a78b8" />
<circle cx="565.30" cy="137.88" r="1.1" fill="#2a78b8" />
<circle cx="588.05" cy="117.06" r="1.1" fill="#2a78b8" />
<circle cx="528.75" cy="166.67" r="1.1" fill="#2a78b8" />
<circle cx="588.14" cy="110.33" r="1.1" fill="#2a78b8" />
<circle cx="535.90" cy="158.92" r="1.1" fill="#2a78b8" />
<circle cx="570.71" cy="134.04" r="1.1" fill="#2a78b8" />
<circle cx="528.33" cy="165.04" r="1.1" fill="#2a78b8" />
<circle cx="596.57" cy="110.27" r="1.1" fill="#2a78b8" />
<circle cx="590.05" cy="115.92" r="1.1" fill="#2a78b8" />
<circle cx="524.85" cy="169.24" r="1.1" fill="#2a78b8" />
<circle cx="523.03" cy="171.07" r="1.1" fill="#2a78b8" />
<circle cx="564.01" cy="138.27" r="1.1" fill="#2a78b8" />
<circle cx="510.28" cy="181.16" r="1.1" fill="#2a78b8" />
<circle cx="537.75" cy="162.09" r="1.1" fill="#2a78b8" />
<circle cx="583.31" cy="123.84" r="1.1" fill="#2a78b8" />
<circle cx="553.09" cy="148.02" r="1.1" fill="#2a78b8" />
<circle cx="573.11" cy="125.07" r="1.1" fill="#2a78b8" />
<circle cx="512.03" cy="177.11" r="1.1" fill="#2a78b8" />
<circle cx="577.15" cy="127.43" r="1.1" fill="#2a78b8" />
<circle cx="580.55" cy="124.79" r="1.1" fill="#2a78b8" />
<circle cx="542.79" cy="156.15" r="1.1" fill="#2a78b8" />
<circle cx="514.17" cy="178.68" r="1.1" fill="#2a78b8" />
<circle cx="526.19" cy="168.77" r="1.1" fill="#2a78b8" />
<circle cx="577.69" cy="127.62" r="1.1" fill="#2a78b8" />
<circle cx="593.27" cy="110.03" r="1.1" fill="#2a78b8" />
<circle cx="541.77" cy="157.40" r="1.1" fill="#2a78b8" />
<circle cx="556.99" cy="144.95" r="1.1" fill="#2a78b8" />
<circle cx="577.03" cy="128.96" r="1.1" fill="#2a78b8" />
<circle cx="581.40" cy="123.16" r="1.1" fill="#2a78b8" />
<circle cx="594.71" cy="111.23" r="1.1" fill="#2a78b8" />
<circle cx="518.15" cy="178.66" r="1.1" fill="#2a78b8" />
<circle cx="592.23" cy="110.31" r="1.1" fill="#2a78b8" />
<circle cx="540.44" cy="154.88" r="1.1" fill="#2a78b8" />
<circle cx="537.97" cy="161.29" r="1.1" fill="#2a78b8" />
<circle cx="538.36" cy="159.09" r="1.1" fill="#2a78b8" />
<circle cx="523.32" cy="171.84" r="1.1" fill="#2a78b8" />
<circle cx="571.72" cy="131.00" r="1.1" fill="#2a78b8" />
<circle cx="514.33" cy="178.49" r="1.1" fill="#2a78b8" />
<circle cx="598.38" cy="109.60" r="1.1" fill="#2a78b8" />
<circle cx="531.24" cy="166.58" r="1.1" fill="#2a78b8" />
<circle cx="563.19" cy="138.56" r="1.1" fill="#2a78b8" />
<circle cx="547.77" cy="154.57" r="1.1" fill="#2a78b8" />
<circle cx="514.97" cy="177.65" r="1.1" fill="#2a78b8" />
<circle cx="554.20" cy="147.78" r="1.1" fill="#2a78b8" />
<circle cx="585.09" cy="117.33" r="1.1" fill="#2a78b8" />
<circle cx="595.07" cy="107.49" r="1.1" fill="#2a78b8" />
<circle cx="566.46" cy="136.71" r="1.1" fill="#2a78b8" />
<circle cx="548.91" cy="152.48" r="1.1" fill="#2a78b8" />
<circle cx="523.35" cy="171.56" r="1.1" fill="#2a78b8" />
<circle cx="550.58" cy="151.81" r="1.1" fill="#2a78b8" />
<circle cx="599.51" cy="102.11" r="1.1" fill="#2a78b8" />
<circle cx="550.61" cy="155.41" r="1.1" fill="#2a78b8" />
<circle cx="553.71" cy="148.18" r="1.1" fill="#2a78b8" />
<circle cx="536.05" cy="164.46" r="1.1" fill="#2a78b8" />
<circle cx="546.16" cy="151.95" r="1.1" fill="#2a78b8" />
<circle cx="598.53" cy="105.15" r="1.1" fill="#2a78b8" />
<circle cx="595.97" cy="111.50" r="1.1" fill="#2a78b8" />
<circle cx="540.30" cy="159.73" r="1.1" fill="#2a78b8" />
<circle cx="517.97" cy="177.52" r="1.1" fill="#2a78b8" />
<circle cx="587.69" cy="113.31" r="1.1" fill="#2a78b8" />
<circle cx="542.35" cy="155.24" r="1.1" fill="#2a78b8" />
<circle cx="572.21" cy="136.11" r="1.1" fill="#2a78b8" />
<circle cx="569.47" cy="134.25" r="1.1" fill="#2a78b8" />
<circle cx="613.82" cy="94.47" r="1.1" fill="#2a78b8" />
<circle cx="605.25" cy="104.68" r="1.1" fill="#2a78b8" />
<circle cx="613.55" cy="92.06" r="1.1" fill="#2a78b8" />
<circle cx="605.51" cy="96.97" r="1.1" fill="#2a78b8" />
<circle cx="611.32" cy="95.79" r="1.1" fill="#2a78b8" />
<circle cx="599.80" cy="107.57" r="1.1" fill="#2a78b8" />
<circle cx="613.16" cy="93.35" r="1.1" fill="#2a78b8" />
<circle cx="608.94" cy="95.51" r="1.1" fill="#2a78b8" />
<circle cx="576.46" cy="141.35" r="1.1" fill="#2a78b8" />
<circle cx="542.70" cy="180.80" r="1.1" fill="#2a78b8" />
<circle cx="578.37" cy="139.26" r="1.1" fill="#2a78b8" />
<circle cx="586.80" cy="129.61" r="1.1" fill="#2a78b8" />
<circle cx="599.74" cy="115.68" r="1.1" fill="#2a78b8" />
<circle cx="566.28" cy="155.13" r="1.1" fill="#2a78b8" />
<circle cx="554.26" cy="165.11" r="1.1" fill="#2a78b8" />
<circle cx="560.62" cy="159.21" r="1.1" fill="#2a78b8" />
<circle cx="594.94" cy="119.94" r="1.1" fill="#2a78b8" />
<circle cx="585.93" cy="130.51" r="1.1" fill="#2a78b8" />
<circle cx="591.41" cy="122.58" r="1.1" fill="#2a78b8" />
<circle cx="599.67" cy="112.91" r="1.1" fill="#2a78b8" />
<circle cx="576.68" cy="137.58" r="1.1" fill="#2a78b8" />
<circle cx="573.41" cy="143.82" r="1.1" fill="#2a78b8" />
<circle cx="579.02" cy="135.74" r="1.1" fill="#2a78b8" />
<circle cx="593.39" cy="119.84" r="1.1" fill="#2a78b8" />
<circle cx="593.88" cy="119.95" r="1.1" fill="#2a78b8" />
<circle cx="592.11" cy="122.64" r="1.1" fill="#2a78b8" />
<circle cx="587.71" cy="127.56" r="1.1" fill="#2a78b8" />
<circle cx="603.99" cy="106.67" r="1.1" fill="#2a78b8" />
<circle cx="544.88" cy="178.56" r="1.1" fill="#2a78b8" />
<circle cx="595.31" cy="118.44" r="1.1" fill="#2a78b8" />
<circle cx="602.31" cy="108.76" r="1.1" fill="#2a78b8" />
<circle cx="587.07" cy="126.90" r="1.1" fill="#2a78b8" />
<circle cx="600.14" cy="112.56" r="1.1" fill="#2a78b8" />
<circle cx="551.29" cy="172.34" r="1.1" fill="#2a78b8" />
<circle cx="552.02" cy="171.23" r="1.1" fill="#2a78b8" />
<circle cx="581.34" cy="133.29" r="1.1" fill="#2a78b8" />
<circle cx="565.88" cy="152.63" r="1.1" fill="#2a78b8" />
<circle cx="546.35" cy="174.55" r="1.1" fill="#2a78b8" />
<circle cx="588.97" cy="125.00" r="1.1" fill="#2a78b8" />
<circle cx="597.62" cy="115.15" r="1.1" fill="#2a78b8" />
<circle cx="561.77" cy="156.63" r="1.1" fill="#2a78b8" />
<circle cx="579.93" cy="139.96" r="1.1" fill="#2a78b8" />
<circle cx="565.56" cy="152.99" r="1.1" fill="#2a78b8" />
<circle cx="545.31" cy="178.35" r="1.1" fill="#2a78b8" />
<circle cx="581.91" cy="134.50" r="1.1" fill="#2a78b8" />
<circle cx="573.93" cy="140.69" r="1.1" fill="#2a78b8" />
<circle cx="581.25" cy="135.48" r="1.1" fill="#2a78b8" />
<circle cx="558.51" cy="163.54" r="1.1" fill="#2a78b8" />
<circle cx="589.49" cy="125.72" r="1.1" fill="#2a78b8" />
<circle cx="574.64" cy="140.86" r="1.1" fill="#2a78b8" />
<circle cx="565.37" cy="152.52" r="1.1" fill="#2a78b8" />
<circle cx="588.61" cy="124.99" r="1.1" fill="#2a78b8" />
<circle cx="583.42" cy="129.28" r="1.1" fill="#2a78b8" />
<circle cx="547.19" cy="176.17" r="1.1" fill="#2a78b8" />
<circle cx="549.70" cy="173.47" r="1.1" fill="#2a78b8" />
<circle cx="579.53" cy="135.83" r="1.1" fill="#2a78b8" />
<circle cx="572.32" cy="140.98" r="1.1" fill="#2a78b8" />
<circle cx="562.32" cy="157.25" r="1.1" fill="#2a78b8" />
<circle cx="587.87" cy="127.47" r="1.1" fill="#2a78b8" />
<circle cx="545.18" cy="175.55" r="1.1" fill="#2a78b8" />
<circle cx="585.08" cy="126.43" r="1.1" fill="#2a78b8" />
<circle cx="555.95" cy="161.68" r="1.1" fill="#2a78b8" />
<circle cx="584.05" cy="127.93" r="1.1" fill="#2a78b8" />
<circle cx="593.94" cy="118.80" r="1.1" fill="#2a78b8" />
<circle cx="564.30" cy="152.91" r="1.1" fill="#2a78b8" />
<circle cx="556.71" cy="165.68" r="1.1" fill="#2a78b8" />
<circle cx="563.94" cy="153.15" r="1.1" fill="#2a78b8" />
<circle cx="566.30" cy="150.09" r="1.1" fill="#2a78b8" />
<circle cx="582.96" cy="129.77" r="1.1" fill="#2a78b8" />
<circle cx="592.92" cy="124.80" r="1.1" fill="#2a78b8" />
<circle cx="574.67" cy="140.26" r="1.1" fill="#2a78b8" />
<circle cx="579.45" cy="138.87" r="1.1" fill="#2a78b8" />
<circle cx="566.92" cy="152.88" r="1.1" fill="#2a78b8" />
<circle cx="547.94" cy="173.69" r="1.1" fill="#2a78b8" />
<circle cx="544.28" cy="179.00" r="1.1" fill="#2a78b8" />
<circle cx="598.31" cy="118.74" r="1.1" fill="#2a78b8" />
<circle cx="541.80" cy="181.84" r="1.1" fill="#2a78b8" />
<circle cx="571.66" cy="143.58" r="1.1" fill="#2a78b8" />
<circle cx="569.02" cy="150.49" r="1.1" fill="#2a78b8" />
<circle cx="571.37" cy="145.04" r="1.1" fill="#2a78b8" />
<circle cx="551.88" cy="169.56" r="1.1" fill="#2a78b8" />
<circle cx="565.59" cy="156.06" r="1.1" fill="#2a78b8" />
<circle cx="551.44" cy="168.24" r="1.1" fill="#2a78b8" />
<circle cx="557.92" cy="163.14" r="1.1" fill="#2a78b8" />
<circle cx="560.02" cy="159.23" r="1.1" fill="#2a78b8" />
<circle cx="556.72" cy="164.87" r="1.1" fill="#2a78b8" />
<circle cx="600.55" cy="113.20" r="1.1" fill="#2a78b8" />
<circle cx="565.23" cy="151.12" r="1.1" fill="#2a78b8" />
<circle cx="584.61" cy="131.64" r="1.1" fill="#2a78b8" />
<circle cx="571.76" cy="144.54" r="1.1" fill="#2a78b8" />
<circle cx="584.28" cy="131.25" r="1.1" fill="#2a78b8" />
<circle cx="560.28" cy="161.32" r="1.1" fill="#2a78b8" />
<circle cx="552.15" cy="172.48" r="1.1" fill="#2a78b8" />
<circle cx="554.55" cy="165.70" r="1.1" fill="#2a78b8" />
<circle cx="546.74" cy="176.11" r="1.1" fill="#2a78b8" />
<circle cx="567.27" cy="149.39" r="1.1" fill="#2a78b8" />
<circle cx="561.60" cy="158.58" r="1.1" fill="#2a78b8" />
<circle cx="571.53" cy="146.31" r="1.1" fill="#2a78b8" />
<circle cx="587.42" cy="124.64" r="1.1" fill="#2a78b8" />
<circle cx="552.16" cy="169.69" r="1.1" fill="#2a78b8" />
<circle cx="601.57" cy="109.43" r="1.1" fill="#2a78b8" />
<circle cx="582.83" cy="137.01" r="1.1" fill="#2a78b8" />
<circle cx="542.17" cy="179.67" r="1.1" fill="#2a78b8" />
<circle cx="545.64" cy="177.29" r="1.1" fill="#2a78b8" />
<circle cx="544.63" cy="180.67" r="1.1" fill="#2a78b8" />
<circle cx="576.64" cy="137.05" r="1.1" fill="#2a78b8" />
<circle cx="564.02" cy="155.36" r="1.1" fill="#2a78b8" />
<circle cx="547.73" cy="171.61" r="1.1" fill="#2a78b8" />
<circle cx="573.00" cy="142.15" r="1.1" fill="#2a78b8" />
<circle cx="601.26" cy="111.19" r="1.1" fill="#2a78b8" />
<circle cx="544.98" cy="177.97" r="1.1" fill="#2a78b8" />
<circle cx="567.03" cy="150.10" r="1.1" fill="#2a78b8" />
<circle cx="567.68" cy="150.07" r="1.1" fill="#2a78b8" />
<circle cx="561.22" cy="158.29" r="1.1" fill="#2a78b8" />
<circle cx="603.55" cy="109.83" r="1.1" fill="#2a78b8" />
<circle cx="553.18" cy="170.49" r="1.1" fill="#2a78b8" />
<circle cx="575.55" cy="140.69" r="1.1" fill="#2a78b8" />
<circle cx="547.13" cy="176.19" r="1.1" fill="#2a78b8" />
<circle cx="576.23" cy="138.94" r="1.1" fill="#2a78b8" />
<circle cx="600.35" cy="116.40" r="1.1" fill="#2a78b8" />
<circle cx="555.40" cy="168.06" r="1.1" fill="#2a78b8" />
<circle cx="542.88" cy="182.96" r="1.1" fill="#2a78b8" />
<circle cx="578.10" cy="138.18" r="1.1" fill="#2a78b8" />
<circle cx="565.72" cy="155.14" r="1.1" fill="#2a78b8" />
<circle cx="599.82" cy="116.12" r="1.1" fill="#2a78b8" />
<circle cx="561.33" cy="161.87" r="1.1" fill="#2a78b8" />
<circle cx="556.01" cy="164.19" r="1.1" fill="#2a78b8" />
<circle cx="549.13" cy="173.77" r="1.1" fill="#2a78b8" />
<circle cx="634.37" cy="76.61" r="1.1" fill="#2a78b8" />
<circle cx="636.14" cy="75.48" r="1.1" fill="#2a78b8" />
<circle cx="608.43" cy="104.15" r="1.1" fill="#2a78b8" />
<circle cx="614.55" cy="97.11" r="1.1" fill="#2a78b8" />
<circle cx="627.03" cy="84.27" r="1.1" fill="#2a78b8" />
<circle cx="614.57" cy="96.45" r="1.1" fill="#2a78b8" />
<circle cx="607.15" cy="105.40" r="1.1" fill="#2a78b8" />
<circle cx="612.86" cy="100.29" r="1.1" fill="#2a78b8" />
<circle cx="609.05" cy="102.94" r="1.1" fill="#2a78b8" />
<circle cx="621.15" cy="91.98" r="1.1" fill="#2a78b8" />
<circle cx="626.24" cy="83.89" r="1.1" fill="#2a78b8" />
<circle cx="639.02" cy="73.37" r="1.1" fill="#2a78b8" />
<circle cx="626.94" cy="86.70" r="1.1" fill="#2a78b8" />
<circle cx="621.96" cy="89.59" r="1.1" fill="#2a78b8" />
<circle cx="641.22" cy="71.51" r="1.1" fill="#2a78b8" />
<circle cx="632.70" cy="79.16" r="1.1" fill="#2a78b8" />
<circle cx="635.86" cy="76.44" r="1.1" fill="#2a78b8" />
<circle cx="619.72" cy="92.40" r="1.1" fill="#2a78b8" />
<circle cx="611.71" cy="100.92" r="1.1" fill="#2a78b8" />
<circle cx="615.22" cy="97.96" r="1.1" fill="#2a78b8" />
<circle cx="607.74" cy="106.38" r="1.1" fill="#2a78b8" />
<circle cx="634.05" cy="77.70" r="1.1" fill="#2a78b8" />
<circle cx="607.25" cy="106.10" r="1.1" fill="#2a78b8" />
<circle cx="610.24" cy="104.32" r="1.1" fill="#2a78b8" />
<circle cx="641.01" cy="68.23" r="1.1" fill="#2a78b8" />
<circle cx="628.34" cy="83.36" r="1.1" fill="#2a78b8" />
<circle cx="618.97" cy="92.24" r="1.1" fill="#2a78b8" />
<circle cx="617.76" cy="93.19" r="1.1" fill="#2a78b8" />
<circle cx="636.42" cy="74.81" r="1.1" fill="#2a78b8" />
<circle cx="632.66" cy="77.68" r="1.1" fill="#2a78b8" />
<circle cx="611.78" cy="100.33" r="1.1" fill="#2a78b8" />
<circle cx="632.00" cy="82.32" r="1.1" fill="#2a78b8" />
<circle cx="635.21" cy="75.26" r="1.1" fill="#2a78b8" />
<circle cx="609.79" cy="104.40" r="1.1" fill="#2a78b8" />
<circle cx="622.67" cy="87.10" r="1.1" fill="#2a78b8" />
<circle cx="621.66" cy="92.57" r="1.1" fill="#2a78b8" />
<circle cx="640.53" cy="69.87" r="1.1" fill="#2a78b8" />
<circle cx="625.36" cy="85.09" r="1.1" fill="#2a78b8" />
<circle cx="609.24" cy="104.19" r="1.1" fill="#2a78b8" />
<circle cx="635.94" cy="75.79" r="1.1" fill="#2a78b8" />
<circle cx="642.09" cy="68.78" r="1.1" fill="#2a78b8" />
<circle cx="606.58" cy="107.95" r="1.1" fill="#2a78b8" />
<circle cx="638.48" cy="73.42" r="1.1" fill="#2a78b8" />
<circle cx="620.10" cy="92.09" r="1.1" fill="#2a78b8" />
<circle cx="612.91" cy="99.02" r="1.1" fill="#2a78b8" />
<circle cx="626.48" cy="86.76" r="1.1" fill="#2a78b8" />
<circle cx="614.43" cy="96.77" r="1.1" fill="#2a78b8" />
<circle cx="618.57" cy="93.90" r="1.1" fill="#2a78b8" />
<circle cx="636.92" cy="70.96" r="1.1" fill="#2a78b8" />
<circle cx="637.28" cy="74.94" r="1.1" fill="#2a78b8" />
<circle cx="610.72" cy="103.13" r="1.1" fill="#2a78b8" />
<circle cx="636.60" cy="75.09" r="1.1" fill="#2a78b8" />
<circle cx="611.72" cy="101.22" r="1.1" fill="#2a78b8" />
<circle cx="609.06" cy="104.60" r="1.1" fill="#2a78b8" />
<circle cx="612.84" cy="102.60" r="1.1" fill="#2a78b8" />
<circle cx="635.29" cy="76.94" r="1.1" fill="#2a78b8" />
<circle cx="637.78" cy="71.86" r="1.1" fill="#2a78b8" />
<circle cx="628.76" cy="82.70" r="1.1" fill="#2a78b8" />
<circle cx="605.73" cy="108.75" r="1.1" fill="#2a78b8" />
<circle cx="624.58" cy="88.19" r="1.1" fill="#2a78b8" />
<circle cx="619.97" cy="92.85" r="1.1" fill="#2a78b8" />
<circle cx="617.27" cy="94.29" r="1.1" fill="#2a78b8" />
<circle cx="619.73" cy="92.52" r="1.1" fill="#2a78b8" />
<circle cx="623.24" cy="89.31" r="1.1" fill="#2a78b8" />
<circle cx="642.26" cy="69.98" r="1.1" fill="#2a78b8" />
<circle cx="635.99" cy="73.73" r="1.1" fill="#2a78b8" />
<circle cx="630.53" cy="82.04" r="1.1" fill="#2a78b8" />
<circle cx="625.51" cy="86.18" r="1.1" fill="#2a78b8" />
<circle cx="627.65" cy="85.35" r="1.1" fill="#2a78b8" />
<circle cx="630.88" cy="81.79" r="1.1" fill="#2a78b8" />
<circle cx="619.03" cy="94.17" r="1.1" fill="#2a78b8" />
<circle cx="619.11" cy="95.36" r="1.1" fill="#2a78b8" />
<circle cx="624.94" cy="85.86" r="1.1" fill="#2a78b8" />
<circle cx="624.55" cy="89.63" r="1.1" fill="#2a78b8" />
<circle cx="620.74" cy="88.24" r="1.1" fill="#2a78b8" />
<circle cx="624.56" cy="85.41" r="1.1" fill="#2a78b8" />
<circle cx="624.16" cy="87.24" r="1.1" fill="#2a78b8" />
<circle cx="626.65" cy="83.74" r="1.1" fill="#2a78b8" />
<circle cx="625.62" cy="88.71" r="1.1" fill="#2a78b8" />
<circle cx="624.76" cy="88.90" r="1.1" fill="#2a78b8" />
<circle cx="622.83" cy="90.77" r="1.1" fill="#2a78b8" />
<circle cx="626.12" cy="86.17" r="1.1" fill="#2a78b8" />
<circle cx="623.07" cy="84.79" r="1.1" fill="#2a78b8" />
<circle cx="621.77" cy="89.28" r="1.1" fill="#2a78b8" />
<circle cx="496.00" cy="182.54" r="1.1" fill="#2a78b8" />
<circle cx="476.31" cy="195.86" r="1.1" fill="#2a78b8" />
<circle cx="494.02" cy="183.85" r="1.1" fill="#2a78b8" />
<circle cx="474.64" cy="206.18" r="1.1" fill="#2a78b8" />
<circle cx="472.62" cy="208.18" r="1.1" fill="#2a78b8" />
<circle cx="545.78" cy="186.89" r="1.1" fill="#2a78b8" />
<circle cx="557.58" cy="169.59" r="1.1" fill="#2a78b8" />
<circle cx="545.78" cy="181.04" r="1.1" fill="#2a78b8" />
<circle cx="534.26" cy="192.73" r="1.15" fill="#2a78b8" />
<circle cx="532.23" cy="194.71" r="1.15" fill="#2a78b8" />
<circle cx="536.86" cy="191.06" r="1.15" fill="#2a78b8" />
<circle cx="534.54" cy="198.05" r="1.15" fill="#2a78b8" />
<circle cx="544.52" cy="176.49" r="1.15" fill="#2a78b8" />
<circle cx="544.52" cy="179.83" r="1.15" fill="#2a78b8" />
<circle cx="501.02" cy="181.20" r="1.15" fill="#2a78b8" />
<circle cx="506.08" cy="181.20" r="1.15" fill="#2a78b8" />
<circle cx="501.45" cy="184.99" r="1.15" fill="#2a78b8" />
<circle cx="506.08" cy="187.88" r="1.15" fill="#2a78b8" />
<circle cx="508.97" cy="187.27" r="1.15" fill="#2a78b8" />
<circle cx="507.80" cy="151.70" r="1.15" fill="#2a78b8" />
<circle cx="523.70" cy="150.90" r="1.15" fill="#2a78b8" />
<circle cx="532.50" cy="151.40" r="1.15" fill="#2a78b8" />
<circle cx="525.70" cy="156.00" r="1.15" fill="#2a78b8" />
<circle cx="482.20" cy="165.00" r="1.15" fill="#2a78b8" />
<circle cx="480.50" cy="191.50" r="1.15" fill="#2a78b8" />
<circle cx="435.60" cy="206.80" r="1.15" fill="#2a78b8" />
<circle cx="447.20" cy="209.70" r="1.15" fill="#2a78b8" />
<circle cx="463.90" cy="203.90" r="1.15" fill="#2a78b8" />
<circle cx="474.80" cy="202.10" r="1.15" fill="#2a78b8" />
<circle cx="436.10" cy="217.90" r="1.15" fill="#2a78b8" />
<circle cx="440.00" cy="216.90" r="1.15" fill="#2a78b8" />
<circle cx="435.60" cy="220.70" r="1.15" fill="#2a78b8" />
<circle cx="440.00" cy="222.90" r="1.15" fill="#2a78b8" />
<circle cx="426.40" cy="233.10" r="1.15" fill="#2a78b8" />
<circle cx="501.00" cy="181.10" r="1.15" fill="#2a78b8" />
<circle cx="506.10" cy="181.20" r="1.15" fill="#2a78b8" />
<circle cx="501.50" cy="185.00" r="1.15" fill="#2a78b8" />
<circle cx="506.10" cy="187.90" r="1.15" fill="#2a78b8" />
<circle cx="509.00" cy="187.20" r="1.15" fill="#2a78b8" />
<circle cx="520.90" cy="216.20" r="1.15" fill="#2a78b8" />
<circle cx="523.20" cy="217.90" r="1.15" fill="#2a78b8" />
<circle cx="514.10" cy="224.80" r="1.15" fill="#2a78b8" />
<circle cx="512.10" cy="230.60" r="1.15" fill="#2a78b8" />
<circle cx="507.80" cy="245.90" r="1.15" fill="#2a78b8" />
<circle cx="503.90" cy="258.90" r="1.15" fill="#2a78b8" />
<circle cx="487.80" cy="287.90" r="1.15" fill="#2a78b8" />
<circle cx="534.60" cy="198.10" r="1.15" fill="#2a78b8" />
<circle cx="532.20" cy="194.70" r="1.15" fill="#2a78b8" />
<circle cx="536.80" cy="191.00" r="1.15" fill="#2a78b8" />
<circle cx="672.50" cy="41.00" r="1.15" fill="#2a78b8" />
<text x="529" y="122.8" font-size="9" font-weight="normal" font-style="normal" fill="#ff2020" text-anchor="start" >lipl-5</text>
<text x="546.8" y="137.8" font-size="9" font-weight="normal" font-style="normal" fill="#ff2020" text-anchor="start" >alh-6</text>
<text x="528" y="144.7" font-size="9" font-weight="normal" font-style="normal" fill="#ff2020" text-anchor="start" >lbp-1</text>
<text x="578.7" y="154.7" font-size="9" font-weight="normal" font-style="normal" fill="#1f1fff" text-anchor="start" >dhs-25</text>
<text x="561.8" y="188.6" font-size="9" font-weight="normal" font-style="normal" fill="#1f1fff" text-anchor="start" >Fat-7</text>
<text x="622.5" y="99" font-size="9" font-weight="normal" font-style="normal" fill="#1f1fff" text-anchor="start" >acdh-1</text>
<text x="453.5" y="196.5" font-size="9" font-weight="normal" font-style="normal" fill="#ff2020" text-anchor="start" >lipl-2</text>
<circle cx="552.20" cy="123.80" r="1.2" fill="#e02020" />
<circle cx="565.70" cy="137.20" r="1.2" fill="#e02020" />
<circle cx="556.80" cy="139.20" r="1.2" fill="#e02020" />
<circle cx="583.70" cy="146.30" r="1.2" fill="#e02020" />
<circle cx="570.10" cy="175.60" r="1.2" fill="#33aa33" />
<circle cx="621.90" cy="92.00" r="1.2" fill="#e02020" />
<circle cx="474.50" cy="198.00" r="1.2" fill="#e02020" />
<line x1="31.2" y1="385.3999999999999" x2="31.2" y2="537.4" stroke="#000" stroke-width="1.4" />
<line x1="30.599999999999998" y1="536.8" x2="202.8" y2="536.8" stroke="#000" stroke-width="1.4" />
<line x1="27.4" y1="536.8" x2="31.2" y2="536.8" stroke="#000" stroke-width="1.4" />
<text x="26.6" y="540.4" font-size="10" font-weight="bold" font-style="normal" fill="#000" text-anchor="end" >0</text>
<line x1="27.4" y1="506.63999999999993" x2="31.2" y2="506.63999999999993" stroke="#000" stroke-width="1.4" />
<text x="26.6" y="510.23999999999995" font-size="10" font-weight="bold" font-style="normal" fill="#000" text-anchor="end" >2</text>
<line x1="27.4" y1="476.47999999999996" x2="31.2" y2="476.47999999999996" stroke="#000" stroke-width="1.4" />
<text x="26.6" y="480.08" font-size="10" font-weight="bold" font-style="normal" fill="#000" text-anchor="end" >4</text>
<line x1="27.4" y1="446.31999999999994" x2="31.2" y2="446.31999999999994" stroke="#000" stroke-width="1.4" />
<text x="26.6" y="449.91999999999996" font-size="10" font-weight="bold" font-style="normal" fill="#000" text-anchor="end" >6</text>
<line x1="27.4" y1="416.15999999999997" x2="31.2" y2="416.15999999999997" stroke="#000" stroke-width="1.4" />
<text x="26.6" y="419.76" font-size="10" font-weight="bold" font-style="normal" fill="#000" text-anchor="end" >8</text>
<line x1="27.4" y1="385.99999999999994" x2="31.2" y2="385.99999999999994" stroke="#000" stroke-width="1.4" />
<text x="26.6" y="389.59999999999997" font-size="10" font-weight="bold" font-style="normal" fill="#000" text-anchor="end" >10</text>
<text transform="translate(8.2,459.2) rotate(-90)" font-size="11" font-weight="bold" font-style="normal" fill="#000" text-anchor="middle" textLength="138" lengthAdjust="spacingAndGlyphs">Normalised log2 counts</text>
<text x="43.8" y="372.8" font-size="13" font-weight="bold" font-style="normal" fill="#000" text-anchor="start" >wt</text>
<text x="42.7" y="386.4" font-size="13" font-weight="bold" font-style="italic" fill="#a6a6a6" text-anchor="start" textLength="50" lengthAdjust="spacingAndGlyphs">hsf-1(2)</text>
<text x="93.8" y="376.4" font-size="9" font-weight="normal" font-style="normal" fill="#a9a9a9" text-anchor="start" textLength="25.5" lengthAdjust="spacingAndGlyphs">neuro</text>
<path d="M36.85,536.20 V530.41 H43.55 V536.20" fill="#fff" stroke="#000" stroke-width="1.7" stroke-linejoin="miter"/>
<path d="M50.05,536.20 V494.22 H57.25 V536.20" fill="#fff" stroke="#808080" stroke-width="1.7" stroke-linejoin="miter"/>
<line x1="40.2" y1="525.7915999999999" x2="40.2" y2="533.3316" stroke="#000" stroke-width="1.1" />
<line x1="38.0" y1="525.7915999999999" x2="42.400000000000006" y2="525.7915999999999" stroke="#000" stroke-width="1.1" />
<line x1="38.0" y1="533.3316" x2="42.400000000000006" y2="533.3316" stroke="#000" stroke-width="1.1" />
<line x1="53.650000000000006" y1="489.59959999999995" x2="53.650000000000006" y2="497.1396" stroke="#808080" stroke-width="1.1" />
<line x1="51.45" y1="489.59959999999995" x2="55.85000000000001" y2="489.59959999999995" stroke="#808080" stroke-width="1.1" />
<line x1="51.45" y1="497.1396" x2="55.85000000000001" y2="497.1396" stroke="#808080" stroke-width="1.1" />
<circle cx="40.20" cy="523.23" r="1.3" fill="#000" />
<circle cx="39.20" cy="533.78" r="1.3" fill="#000" />
<circle cx="41.20" cy="534.54" r="1.3" fill="#000" />
<rect x="49.20" y="488.35" width="2.5" height="2.5" fill="#808080"/>
<rect x="55.60" y="488.35" width="2.5" height="2.5" fill="#808080"/>
<rect x="52.40" y="499.36" width="2.5" height="2.5" fill="#808080"/>
<line x1="46.8" y1="536.8" x2="46.8" y2="541.8" stroke="#000" stroke-width="1.4" />
<path d="M72.15,536.20 V500.25 H79.15 V536.20" fill="#fff" stroke="#000" stroke-width="1.7" stroke-linejoin="miter"/>
<path d="M85.35,536.20 V470.85 H92.35 V536.20" fill="#fff" stroke="#808080" stroke-width="1.7" stroke-linejoin="miter"/>
<line x1="75.65" y1="495.3299999999999" x2="75.65" y2="503.47319999999996" stroke="#000" stroke-width="1.1" />
<line x1="73.45" y1="495.3299999999999" x2="77.85000000000001" y2="495.3299999999999" stroke="#000" stroke-width="1.1" />
<line x1="73.45" y1="503.47319999999996" x2="77.85000000000001" y2="503.47319999999996" stroke="#000" stroke-width="1.1" />
<line x1="88.85" y1="461.5508" x2="88.85" y2="478.44039999999995" stroke="#808080" stroke-width="1.1" />
<line x1="86.64999999999999" y1="461.5508" x2="91.05" y2="461.5508" stroke="#808080" stroke-width="1.1" />
<line x1="86.64999999999999" y1="478.44039999999995" x2="91.05" y2="478.44039999999995" stroke="#808080" stroke-width="1.1" />
<circle cx="75.65" cy="492.62" r="1.3" fill="#000" />
<circle cx="75.65" cy="502.12" r="1.3" fill="#000" />
<rect x="87.60" y="456.83" width="2.5" height="2.5" fill="#808080"/>
<rect x="87.60" y="464.37" width="2.5" height="2.5" fill="#808080"/>
<rect x="87.60" y="485.33" width="2.5" height="2.5" fill="#808080"/>
<line x1="82.25" y1="536.8" x2="82.25" y2="541.8" stroke="#000" stroke-width="1.4" />
<path d="M107.05,536.20 V519.25 H113.85 V536.20" fill="#fff" stroke="#000" stroke-width="1.7" stroke-linejoin="miter"/>
<path d="M120.25,536.20 V483.36 H127.05 V536.20" fill="#fff" stroke="#808080" stroke-width="1.7" stroke-linejoin="miter"/>
<line x1="110.45" y1="515.0848" x2="110.45" y2="521.7199999999999" stroke="#000" stroke-width="1.1" />
<line x1="108.25" y1="515.0848" x2="112.65" y2="515.0848" stroke="#000" stroke-width="1.1" />
<line x1="108.25" y1="521.7199999999999" x2="112.65" y2="521.7199999999999" stroke="#000" stroke-width="1.1" />
<line x1="123.65" y1="479.496" x2="123.65" y2="485.52799999999996" stroke="#808080" stroke-width="1.1" />
<line x1="121.45" y1="479.496" x2="125.85000000000001" y2="479.496" stroke="#808080" stroke-width="1.1" />
<line x1="121.45" y1="485.52799999999996" x2="125.85000000000001" y2="485.52799999999996" stroke="#808080" stroke-width="1.1" />
<circle cx="110.45" cy="510.41" r="1.3" fill="#000" />
<circle cx="110.45" cy="520.21" r="1.3" fill="#000" />
<circle cx="110.45" cy="523.23" r="1.3" fill="#000" />
<rect x="122.40" y="474.48" width="2.5" height="2.5" fill="#808080"/>
<rect x="122.40" y="477.49" width="2.5" height="2.5" fill="#808080"/>
<rect x="122.40" y="482.02" width="2.5" height="2.5" fill="#808080"/>
<line x1="117.05000000000001" y1="536.8" x2="117.05000000000001" y2="541.8" stroke="#000" stroke-width="1.4" />
<path d="M141.95,536.20 V516.24 H148.75 V536.20" fill="#fff" stroke="#000" stroke-width="1.7" stroke-linejoin="miter"/>
<path d="M155.15,536.20 V515.03 H161.75 V536.20" fill="#fff" stroke="#808080" stroke-width="1.7" stroke-linejoin="miter"/>
<line x1="145.35" y1="509.65599999999995" x2="145.35" y2="521.1167999999999" stroke="#000" stroke-width="1.1" />
<line x1="143.15" y1="509.65599999999995" x2="147.54999999999998" y2="509.65599999999995" stroke="#000" stroke-width="1.1" />
<line x1="143.15" y1="521.1167999999999" x2="147.54999999999998" y2="521.1167999999999" stroke="#000" stroke-width="1.1" />
<line x1="158.45" y1="508.4496" x2="158.45" y2="519.9104" stroke="#808080" stroke-width="1.1" />
<line x1="156.25" y1="508.4496" x2="160.64999999999998" y2="508.4496" stroke="#808080" stroke-width="1.1" />
<line x1="156.25" y1="519.9104" x2="160.64999999999998" y2="519.9104" stroke="#808080" stroke-width="1.1" />
<circle cx="145.35" cy="506.64" r="1.3" fill="#000" />
<circle cx="145.35" cy="517.20" r="1.3" fill="#000" />
<circle cx="145.35" cy="525.49" r="1.3" fill="#000" />
<rect x="157.20" y="502.37" width="2.5" height="2.5" fill="#808080"/>
<rect x="157.20" y="512.93" width="2.5" height="2.5" fill="#808080"/>
<rect x="157.20" y="519.72" width="2.5" height="2.5" fill="#808080"/>
<line x1="151.95" y1="536.8" x2="151.95" y2="541.8" stroke="#000" stroke-width="1.4" />
<path d="M177.25,536.20 V420.33 H183.65 V536.20" fill="#fff" stroke="#000" stroke-width="1.7" stroke-linejoin="miter"/>
<path d="M190.05,536.20 V404.95 H196.85 V536.20" fill="#fff" stroke="#808080" stroke-width="1.7" stroke-linejoin="miter"/>
<line x1="180.45" y1="418.27119999999996" x2="180.45" y2="420.68399999999997" stroke="#000" stroke-width="1.1" />
<line x1="178.25" y1="418.27119999999996" x2="182.64999999999998" y2="418.27119999999996" stroke="#000" stroke-width="1.1" />
<line x1="178.25" y1="420.68399999999997" x2="182.64999999999998" y2="420.68399999999997" stroke="#000" stroke-width="1.1" />
<line x1="193.45" y1="401.83399999999995" x2="193.45" y2="406.35799999999995" stroke="#808080" stroke-width="1.1" />
<line x1="191.25" y1="401.83399999999995" x2="195.64999999999998" y2="401.83399999999995" stroke="#808080" stroke-width="1.1" />
<line x1="191.25" y1="406.35799999999995" x2="195.64999999999998" y2="406.35799999999995" stroke="#808080" stroke-width="1.1" />
<circle cx="178.95" cy="416.91" r="1.3" fill="#000" />
<circle cx="181.95" cy="418.42" r="1.3" fill="#000" />
<rect x="189.70" y="400.58" width="2.5" height="2.5" fill="#808080"/>
<rect x="194.70" y="400.58" width="2.5" height="2.5" fill="#808080"/>
<rect x="192.20" y="405.86" width="2.5" height="2.5" fill="#808080"/>
<line x1="186.85" y1="536.8" x2="186.85" y2="541.8" stroke="#000" stroke-width="1.4" />
<path d="M38.9,472.5 V461.7 H55.7 V472.5" fill="none" stroke="#000" stroke-width="1.3"/>
<text x="52" y="456.9" font-size="8.7" font-weight="normal" font-style="normal" fill="#000" text-anchor="middle" textLength="29.6" lengthAdjust="spacingAndGlyphs">2.34e-9</text>
<path d="M73.2,441.3 V431.7 H88.9 V441.3" fill="none" stroke="#000" stroke-width="1.3"/>
<text x="81" y="425.6" font-size="8.7" font-weight="normal" font-style="normal" fill="#000" text-anchor="middle" textLength="30" lengthAdjust="spacingAndGlyphs">1.71e-5</text>
<path d="M110.4,459.2 V449.4 H125.5 V459.2" fill="none" stroke="#000" stroke-width="1.3"/>
<text x="117.2" y="444.2" font-size="8.7" font-weight="normal" font-style="normal" fill="#000" text-anchor="middle" textLength="34" lengthAdjust="spacingAndGlyphs">4.31e-11</text>
<path d="M145.3,493.4 V483.7 H159.3 V493.4" fill="none" stroke="#000" stroke-width="1.3"/>
<text x="150.8" y="477.7" font-size="9" font-weight="normal" font-style="normal" fill="#000" text-anchor="middle" >ns</text>
<path d="M178.8,382 V372 H192.5 V382" fill="none" stroke="#000" stroke-width="1.3"/>
<text x="183.8" y="364.6" font-size="8.7" font-weight="normal" font-style="normal" fill="#000" text-anchor="middle" textLength="28.4" lengthAdjust="spacingAndGlyphs">1.14e-5</text>
<text x="33" y="553.5" font-size="10" font-weight="normal" font-style="italic" fill="#000" text-anchor="start" textLength="24.8" lengthAdjust="spacingAndGlyphs">lipl-1</text>
<text x="67.3" y="553.5" font-size="10" font-weight="normal" font-style="italic" fill="#000" text-anchor="start" textLength="24.8" lengthAdjust="spacingAndGlyphs">lipl-2</text>
<text x="101.9" y="553.5" font-size="10" font-weight="normal" font-style="italic" fill="#000" text-anchor="start" textLength="24.8" lengthAdjust="spacingAndGlyphs">lipl-3</text>
<text x="136.2" y="553.5" font-size="10" font-weight="normal" font-style="italic" fill="#000" text-anchor="start" textLength="24.8" lengthAdjust="spacingAndGlyphs">lipl-4</text>
<text x="170.5" y="553.5" font-size="10" font-weight="normal" font-style="italic" fill="#000" text-anchor="start" textLength="24.8" lengthAdjust="spacingAndGlyphs">lipl-5</text>
<line x1="257.7" y1="385.29999999999995" x2="257.7" y2="537.5" stroke="#000" stroke-width="1.3" />
<line x1="257.09999999999997" y1="536.9" x2="358" y2="536.9" stroke="#000" stroke-width="1.3" />
<line x1="251.4" y1="536.9" x2="257.7" y2="536.9" stroke="#000" stroke-width="1.3" />
<text x="249.2" y="540.9" font-size="11.1" font-weight="bold" font-style="normal" fill="#000" text-anchor="end" >0</text>
<line x1="251.4" y1="506.7" x2="257.7" y2="506.7" stroke="#000" stroke-width="1.3" />
<text x="249.2" y="510.7" font-size="11.1" font-weight="bold" font-style="normal" fill="#000" text-anchor="end" >1000</text>
<line x1="251.4" y1="476.5" x2="257.7" y2="476.5" stroke="#000" stroke-width="1.3" />
<text x="249.2" y="480.5" font-size="11.1" font-weight="bold" font-style="normal" fill="#000" text-anchor="end" >2000</text>
<line x1="251.4" y1="446.29999999999995" x2="257.7" y2="446.29999999999995" stroke="#000" stroke-width="1.3" />
<text x="249.2" y="450.29999999999995" font-size="11.1" font-weight="bold" font-style="normal" fill="#000" text-anchor="end" >3000</text>
<line x1="251.4" y1="416.09999999999997" x2="257.7" y2="416.09999999999997" stroke="#000" stroke-width="1.3" />
<text x="249.2" y="420.09999999999997" font-size="11.1" font-weight="bold" font-style="normal" fill="#000" text-anchor="end" >4000</text>
<line x1="251.4" y1="385.9" x2="257.7" y2="385.9" stroke="#000" stroke-width="1.3" />
<text x="249.2" y="389.9" font-size="11.1" font-weight="bold" font-style="normal" fill="#000" text-anchor="end" >5000</text>
<text transform="translate(215.9,461.5) rotate(-90)" font-size="12.5" font-weight="bold" font-style="normal" fill="#000" text-anchor="middle" textLength="131" lengthAdjust="spacingAndGlyphs">Mean Intensity Bodipy</text>
<path d="M273.10,536.30 V410.20 H298.80 V536.30" fill="#fff" stroke="#000" stroke-width="1.8" stroke-linejoin="miter"/>
<path d="M315.60,536.30 V460.80 H342.10 V536.30" fill="#fff" stroke="#aaaaaa" stroke-width="1.6" stroke-linejoin="miter"/>
<line x1="286" y1="406.5" x2="286" y2="411.0" stroke="#000" stroke-width="1.1" />
<line x1="279.3" y1="406.5" x2="292.7" y2="406.5" stroke="#000" stroke-width="1.1" />
<line x1="279.3" y1="411.0" x2="292.7" y2="411.0" stroke="#000" stroke-width="1.1" />
<line x1="328.8" y1="451.7" x2="328.8" y2="468" stroke="#000" stroke-width="1.1" />
<line x1="322.0" y1="451.7" x2="335.6" y2="451.7" stroke="#000" stroke-width="1.1" />
<line x1="322.0" y1="468" x2="335.6" y2="468" stroke="#000" stroke-width="1.1" />
<circle cx="279.80" cy="403.90" r="1.45" fill="#000" />
<circle cx="286.00" cy="402.20" r="1.45" fill="#000" />
<circle cx="292.00" cy="405.10" r="1.45" fill="#000" />
<circle cx="286.00" cy="406.10" r="1.45" fill="#000" />
<circle cx="282.80" cy="413.80" r="1.45" fill="#000" />
<circle cx="289.20" cy="414.80" r="1.45" fill="#000" />
<circle cx="286.00" cy="419.10" r="1.45" fill="#000" />
<circle cx="328.80" cy="434.10" r="1.45" fill="#000" />
<circle cx="325.60" cy="449.60" r="1.45" fill="#000" />
<circle cx="332.00" cy="447.60" r="1.45" fill="#000" />
<circle cx="328.80" cy="454.40" r="1.45" fill="#000" />
<circle cx="328.80" cy="462.00" r="1.45" fill="#000" />
<circle cx="328.80" cy="470.10" r="1.45" fill="#000" />
<circle cx="328.80" cy="500.90" r="1.45" fill="#000" />
<path d="M286,393.9 V386.6 H329.1 V393.9" fill="none" stroke="#000" stroke-width="1.3"/>
<text x="307.6" y="381.1" font-size="8.6" font-weight="normal" font-style="normal" fill="#000" text-anchor="middle" textLength="42.9" lengthAdjust="spacingAndGlyphs">p=0.0003</text>
<line x1="286" y1="536.9" x2="286" y2="542.4" stroke="#000" stroke-width="1.3" />
<line x1="328.8" y1="536.9" x2="328.8" y2="542.4" stroke="#000" stroke-width="1.3" />
<text x="284.9" y="554.1" font-size="11" font-weight="normal" font-style="normal" fill="#000" text-anchor="middle" >wt</text>
<text x="307.6" y="554.5" font-size="10.5" font-weight="normal" font-style="italic" fill="#000" text-anchor="start" textLength="39.5" lengthAdjust="spacingAndGlyphs">hsf-1(2)</text>
<text x="346.8" y="546.6" font-size="9.3" font-weight="normal" font-style="italic" fill="#000" text-anchor="start" textLength="23.5" lengthAdjust="spacingAndGlyphs">neuro</text>
<text x="305.7" y="568.6" font-size="9.6" font-weight="normal" font-style="normal" fill="#000" text-anchor="middle" textLength="59.2" lengthAdjust="spacingAndGlyphs">n=180 n=173</text>
<line x1="592.9" y1="384.79999999999995" x2="592.9" y2="537.5" stroke="#000" stroke-width="1.3" />
<line x1="586.5" y1="536.9" x2="695" y2="536.9" stroke="#000" stroke-width="1.3" />
<line x1="586.6" y1="536.9" x2="592.9" y2="536.9" stroke="#000" stroke-width="1.3" />
<text x="584.7" y="540.9" font-size="11.2" font-weight="bold" font-style="normal" fill="#000" text-anchor="end" >0</text>
<line x1="586.6" y1="486.4" x2="592.9" y2="486.4" stroke="#000" stroke-width="1.3" />
<text x="584.7" y="490.4" font-size="11.2" font-weight="bold" font-style="normal" fill="#000" text-anchor="end" >2000</text>
<line x1="586.6" y1="435.9" x2="592.9" y2="435.9" stroke="#000" stroke-width="1.3" />
<text x="584.7" y="439.9" font-size="11.2" font-weight="bold" font-style="normal" fill="#000" text-anchor="end" >4000</text>
<line x1="586.6" y1="385.4" x2="592.9" y2="385.4" stroke="#000" stroke-width="1.3" />
<text x="584.7" y="389.4" font-size="11.2" font-weight="bold" font-style="normal" fill="#000" text-anchor="end" >6000</text>
<text transform="translate(550.9,461.3) rotate(-90)" font-size="12.5" font-weight="bold" font-style="normal" fill="#000" text-anchor="middle" textLength="131.5" lengthAdjust="spacingAndGlyphs">Mean Intensity Bodipy</text>
<path d="M608.55,536.30 V418.95 H635.05 V536.30" fill="#fff" stroke="#000" stroke-width="1.9" stroke-linejoin="miter"/>
<path d="M652.35,536.30 V454.55 H678.25 V536.30" fill="#fff" stroke="#9a9a9a" stroke-width="1.9" stroke-linejoin="miter"/>
<line x1="622" y1="409" x2="622" y2="427" stroke="#000" stroke-width="1.2" />
<line x1="615.2" y1="409" x2="628.8" y2="409" stroke="#000" stroke-width="1.2" />
<line x1="615.2" y1="427" x2="628.8" y2="427" stroke="#000" stroke-width="1.2" />
<line x1="664.9" y1="440.5" x2="664.9" y2="464.7" stroke="#999" stroke-width="1.2" />
<line x1="658.1" y1="440.5" x2="671.6999999999999" y2="440.5" stroke="#999" stroke-width="1.2" />
<line x1="658.1" y1="464.7" x2="671.6999999999999" y2="464.7" stroke="#999" stroke-width="1.2" />
<circle cx="622.00" cy="400.50" r="1.5" fill="#000" />
<circle cx="619.20" cy="426.40" r="1.5" fill="#000" />
<circle cx="624.90" cy="426.40" r="1.5" fill="#000" />
<circle cx="664.90" cy="432.70" r="1.5" fill="#000" />
<circle cx="664.90" cy="451.00" r="1.5" fill="#000" />
<circle cx="664.90" cy="474.00" r="1.5" fill="#000" />
<path d="M622,394.8 V387.9 H664.5 V394.8" fill="none" stroke="#000" stroke-width="1.3"/>
<text x="643.8" y="382.8" font-size="9.8" font-weight="normal" font-style="normal" fill="#000" text-anchor="middle" textLength="43.5" lengthAdjust="spacingAndGlyphs">p=0.0043</text>
<line x1="622" y1="536.9" x2="622" y2="542.4" stroke="#000" stroke-width="1.3" />
<line x1="664.9" y1="536.9" x2="664.9" y2="542.4" stroke="#000" stroke-width="1.3" />
<text x="624" y="553.3" font-size="11" font-weight="normal" font-style="normal" fill="#000" text-anchor="middle" >wt</text>
<text x="638.5" y="554.6" font-size="11.5" font-weight="normal" font-style="italic" fill="#000" text-anchor="start" textLength="39.7" lengthAdjust="spacingAndGlyphs">hsf-1(1)</text>
<text x="679" y="548.8" font-size="9" font-weight="normal" font-style="italic" fill="#000" text-anchor="start" textLength="22.3" lengthAdjust="spacingAndGlyphs">neuro</text>
<text x="649" y="567.8" font-size="9.6" font-weight="normal" font-style="normal" fill="#000" text-anchor="middle" textLength="59.9" lengthAdjust="spacingAndGlyphs">n= 111 n=115</text>
<line x1="57.2" y1="677.9" x2="57.2" y2="830.0" stroke="#000" stroke-width="1.4" />
<line x1="51.5" y1="829.4" x2="150" y2="829.4" stroke="#000" stroke-width="1.4" />
<line x1="51.5" y1="829.4" x2="57.2" y2="829.4" stroke="#000" stroke-width="1.4" />
<text x="49.5" y="833.3" font-size="10.8" font-weight="bold" font-style="normal" fill="#000" text-anchor="end" >0</text>
<line x1="51.5" y1="779.1" x2="57.2" y2="779.1" stroke="#000" stroke-width="1.4" />
<text x="49.5" y="783.0" font-size="10.8" font-weight="bold" font-style="normal" fill="#000" text-anchor="end" >500</text>
<line x1="51.5" y1="728.8" x2="57.2" y2="728.8" stroke="#000" stroke-width="1.4" />
<text x="49.5" y="732.6999999999999" font-size="10.8" font-weight="bold" font-style="normal" fill="#000" text-anchor="end" >1000</text>
<line x1="51.5" y1="678.5" x2="57.2" y2="678.5" stroke="#000" stroke-width="1.4" />
<text x="49.5" y="682.4" font-size="10.8" font-weight="bold" font-style="normal" fill="#000" text-anchor="end" >1500</text>
<text transform="translate(20.3,748.2) rotate(-90)" font-size="11.5" font-weight="bold" text-anchor="middle" textLength="143" lengthAdjust="spacingAndGlyphs"><tspan font-style="italic">Fat-7p</tspan> ::GFP expression</text>
<path d="M68.25,828.80 V709.45 H85.15 V828.80" fill="#fff" stroke="#000" stroke-width="1.9" stroke-linejoin="miter"/>
<path d="M97.30,828.80 V744.30 H114.90 V828.80" fill="#fff" stroke="#aaaaaa" stroke-width="2.2" stroke-linejoin="miter"/>
<path d="M126.60,828.80 V756.80 H143.90 V828.80" fill="#fff" stroke="#aaaaaa" stroke-width="2.2" stroke-linejoin="miter"/>
<line x1="76.6" y1="695.1" x2="76.6" y2="720.3" stroke="#000" stroke-width="1.2" />
<line x1="72.1" y1="695.1" x2="81.1" y2="695.1" stroke="#000" stroke-width="1.2" />
<line x1="72.1" y1="720.3" x2="81.1" y2="720.3" stroke="#000" stroke-width="1.2" />
<line x1="106" y1="730.9" x2="106" y2="754.7" stroke="#999" stroke-width="1.2" />
<line x1="101.5" y1="730.9" x2="110.5" y2="730.9" stroke="#999" stroke-width="1.2" />
<line x1="101.5" y1="754.7" x2="110.5" y2="754.7" stroke="#999" stroke-width="1.2" />
<line x1="135.2" y1="736.4" x2="135.2" y2="774.3" stroke="#999" stroke-width="1.2" />
<line x1="130.5" y1="736.4" x2="139.89999999999998" y2="736.4" stroke="#999" stroke-width="1.2" />
<line x1="130.5" y1="774.3" x2="139.89999999999998" y2="774.3" stroke="#999" stroke-width="1.2" />
<circle cx="73.60" cy="695.10" r="1.5" fill="#000" />
<circle cx="79.50" cy="695.10" r="1.5" fill="#000" />
<circle cx="76.70" cy="733.40" r="1.5" fill="#000" />
<circle cx="106.00" cy="723.90" r="1.5" fill="#000" />
<circle cx="106.00" cy="739.80" r="1.5" fill="#000" />
<circle cx="106.00" cy="765.30" r="1.5" fill="#000" />
<circle cx="135.10" cy="729.50" r="1.5" fill="#000" />
<circle cx="135.10" cy="744.20" r="1.5" fill="#000" />
<circle cx="135.10" cy="792.20" r="1.5" fill="#000" />
<path d="M77.3,655.5 V648.5 H133.7 V655.5" fill="none" stroke="#000" stroke-width="1.3"/>
<text x="108.1" y="643.6" font-size="8.9" font-weight="normal" font-style="normal" fill="#000" text-anchor="middle" textLength="42.3" lengthAdjust="spacingAndGlyphs">p=0.0408</text>
<path d="M77.3,679.6 V672.9 H112.1 V679.6" fill="none" stroke="#000" stroke-width="1.3"/>
<text x="97.1" y="665.9" font-size="8.9" font-weight="normal" font-style="normal" fill="#000" text-anchor="middle" textLength="42.2" lengthAdjust="spacingAndGlyphs">p=0.0348</text>
<path d="M103.6,707.3 V699.6 H133.7 V707.3" fill="none" stroke="#000" stroke-width="1.3"/>
<text x="123.8" y="694.9" font-size="9.3" font-weight="normal" font-style="normal" fill="#000" text-anchor="middle" >ns</text>
<line x1="76.7" y1="829.4" x2="76.7" y2="835.4" stroke="#000" stroke-width="1.4" />
<line x1="106" y1="829.4" x2="106" y2="835.4" stroke="#000" stroke-width="1.4" />
<line x1="135.1" y1="829.4" x2="135.1" y2="835.4" stroke="#000" stroke-width="1.4" />
<text x="66" y="848.3" font-size="10.5" font-weight="normal" font-style="normal" fill="#000" text-anchor="middle" >wt</text>
<text x="90.6" y="851.2" font-size="11.6" font-weight="normal" font-style="italic" fill="#000" text-anchor="start" textLength="24.9" lengthAdjust="spacingAndGlyphs">hsf-1</text>
<text x="117.2" y="847.3" font-size="9" font-weight="normal" font-style="italic" fill="#000" text-anchor="start" textLength="24.6" lengthAdjust="spacingAndGlyphs">neuro</text>
<text x="102.8" y="861.7" font-size="9.4" font-weight="normal" font-style="normal" fill="#000" text-anchor="middle" textLength="21.6" lengthAdjust="spacingAndGlyphs">line 1</text>
<text x="135.5" y="861.7" font-size="9.4" font-weight="normal" font-style="normal" fill="#000" text-anchor="middle" textLength="21.9" lengthAdjust="spacingAndGlyphs">line 2</text>
<text x="100.2" y="873.2" font-size="9.6" font-weight="normal" font-style="normal" fill="#000" text-anchor="middle" textLength="74.8" lengthAdjust="spacingAndGlyphs">n= 138 n=92 n=63</text>
<line x1="362.6" y1="683.1999999999999" x2="362.6" y2="829.0" stroke="#000" stroke-width="1.3" />
<line x1="358.5" y1="828.4" x2="508.6" y2="828.4" stroke="#000" stroke-width="1.3" />
<line x1="358.5" y1="828.4" x2="362.6" y2="828.4" stroke="#000" stroke-width="1.3" />
<text x="357.5" y="831.8" font-size="9.3" font-weight="bold" font-style="normal" fill="#000" text-anchor="end" >0</text>
<line x1="358.5" y1="799.48" x2="362.6" y2="799.48" stroke="#000" stroke-width="1.3" />
<text x="357.5" y="802.88" font-size="9.3" font-weight="bold" font-style="normal" fill="#000" text-anchor="end" >10</text>
<line x1="358.5" y1="770.56" x2="362.6" y2="770.56" stroke="#000" stroke-width="1.3" />
<text x="357.5" y="773.9599999999999" font-size="9.3" font-weight="bold" font-style="normal" fill="#000" text-anchor="end" >20</text>
<line x1="358.5" y1="741.64" x2="362.6" y2="741.64" stroke="#000" stroke-width="1.3" />
<text x="357.5" y="745.04" font-size="9.3" font-weight="bold" font-style="normal" fill="#000" text-anchor="end" >30</text>
<line x1="358.5" y1="712.72" x2="362.6" y2="712.72" stroke="#000" stroke-width="1.3" />
<text x="357.5" y="716.12" font-size="9.3" font-weight="bold" font-style="normal" fill="#000" text-anchor="end" >40</text>
<line x1="358.5" y1="683.8" x2="362.6" y2="683.8" stroke="#000" stroke-width="1.3" />
<text x="357.5" y="687.1999999999999" font-size="9.3" font-weight="bold" font-style="normal" fill="#000" text-anchor="end" >50</text>
<text transform="translate(341.6,745.1) rotate(-90)" font-size="11.8" font-weight="bold" font-style="normal" fill="#000" text-anchor="middle" textLength="122.6" lengthAdjust="spacingAndGlyphs">Fat-6:GFP expression</text>
<path d="M384.65,827.80 V722.95 H423.35 V827.80" fill="#fff" stroke="#000" stroke-width="1.9" stroke-linejoin="miter"/>
<path d="M446.55,827.80 V774.95 H485.75 V827.80" fill="#fff" stroke="#aaaaaa" stroke-width="1.9" stroke-linejoin="miter"/>
<line x1="404.2" y1="709.2" x2="404.2" y2="734.6" stroke="#000" stroke-width="1.2" />
<line x1="393.59999999999997" y1="709.2" x2="414.8" y2="709.2" stroke="#000" stroke-width="1.2" />
<line x1="393.59999999999997" y1="734.6" x2="414.8" y2="734.6" stroke="#000" stroke-width="1.2" />
<line x1="466.2" y1="769.2" x2="466.2" y2="779.3" stroke="#999" stroke-width="1.2" />
<line x1="455.7" y1="769.2" x2="476.7" y2="769.2" stroke="#999" stroke-width="1.2" />
<line x1="455.7" y1="779.3" x2="476.7" y2="779.3" stroke="#999" stroke-width="1.2" />
<circle cx="404.20" cy="711.60" r="1.6" fill="#000" />
<circle cx="404.20" cy="719.60" r="1.6" fill="#000" />
<circle cx="404.20" cy="735.80" r="1.6" fill="#000" />
<circle cx="462.50" cy="770.40" r="1.6" fill="#000" />
<circle cx="469.80" cy="771.10" r="1.6" fill="#000" />
<circle cx="466.20" cy="780.00" r="1.6" fill="#000" />
<path d="M404.2,706.3 V696.1 H466.2 V764.8" fill="none" stroke="#000" stroke-width="1.5"/>
<text x="434.2" y="688.2" font-size="10.6" font-weight="normal" font-style="normal" fill="#000" text-anchor="middle" textLength="39.2" lengthAdjust="spacingAndGlyphs">p=0.033</text>
<line x1="404.2" y1="828.4" x2="404.2" y2="833.9" stroke="#000" stroke-width="1.3" />
<line x1="466.2" y1="828.4" x2="466.2" y2="833.9" stroke="#000" stroke-width="1.3" />
<text x="403" y="846.5" font-size="11" font-weight="normal" font-style="normal" fill="#000" text-anchor="middle" >wt</text>
<text x="442.3" y="846.6" font-size="11.5" font-weight="normal" font-style="italic" fill="#000" text-anchor="start" textLength="38.9" lengthAdjust="spacingAndGlyphs">hsf-1(2)</text>
<text x="481.4" y="838.2" font-size="8.4" font-weight="normal" font-style="italic" fill="#000" text-anchor="start" textLength="23.8" lengthAdjust="spacingAndGlyphs">neuro</text>
<text x="406.3" y="861.2" font-size="9.2" font-weight="normal" font-style="normal" fill="#000" text-anchor="middle" textLength="22.2" lengthAdjust="spacingAndGlyphs">n=92</text>
<text x="456.5" y="861.2" font-size="9.2" font-weight="normal" font-style="normal" fill="#000" text-anchor="middle" textLength="25.3" lengthAdjust="spacingAndGlyphs">n=102</text>
<line x1="546.9" y1="694.1999999999999" x2="546.9" y2="828.5" stroke="#222" stroke-width="1.3" />
<line x1="543.7" y1="827.9" x2="659" y2="827.9" stroke="#222" stroke-width="1.3" />
<line x1="543.7" y1="827.9" x2="546.9" y2="827.9" stroke="#222" stroke-width="1.3" />
<text x="541.9" y="831.8" font-size="10.8" font-weight="normal" font-style="normal" fill="#222" text-anchor="end" >0</text>
<line x1="543.7" y1="801.28" x2="546.9" y2="801.28" stroke="#222" stroke-width="1.3" />
<text x="541.9" y="805.18" font-size="10.8" font-weight="normal" font-style="normal" fill="#222" text-anchor="end" >10</text>
<line x1="543.7" y1="774.66" x2="546.9" y2="774.66" stroke="#222" stroke-width="1.3" />
<text x="541.9" y="778.56" font-size="10.8" font-weight="normal" font-style="normal" fill="#222" text-anchor="end" >20</text>
<line x1="543.7" y1="748.04" x2="546.9" y2="748.04" stroke="#222" stroke-width="1.3" />
<text x="541.9" y="751.9399999999999" font-size="10.8" font-weight="normal" font-style="normal" fill="#222" text-anchor="end" >30</text>
<line x1="543.7" y1="721.42" x2="546.9" y2="721.42" stroke="#222" stroke-width="1.3" />
<text x="541.9" y="725.3199999999999" font-size="10.8" font-weight="normal" font-style="normal" fill="#222" text-anchor="end" >40</text>
<line x1="543.7" y1="694.8" x2="546.9" y2="694.8" stroke="#222" stroke-width="1.3" />
<text x="541.9" y="698.6999999999999" font-size="10.8" font-weight="normal" font-style="normal" fill="#222" text-anchor="end" >50</text>
<text transform="translate(523.8,754) rotate(-90)" font-size="11.5" font-weight="bold" font-style="normal" fill="#000" text-anchor="middle" textLength="100.7" lengthAdjust="spacingAndGlyphs">Oleic acid (µg/ml)</text>
<path d="M564.05,827.30 V740.25 H593.85 V827.30" fill="#fff" stroke="#000" stroke-width="2.1" stroke-linejoin="miter"/>
<path d="M610.55,827.30 V764.05 H640.45 V827.30" fill="#fff" stroke="#aaaaaa" stroke-width="2.1" stroke-linejoin="miter"/>
<line x1="579" y1="724.6" x2="579" y2="754" stroke="#000" stroke-width="1.3" />
<line x1="571.1" y1="724.6" x2="586.9" y2="724.6" stroke="#000" stroke-width="1.3" />
<line x1="571.1" y1="754" x2="586.9" y2="754" stroke="#000" stroke-width="1.3" />
<line x1="625.4" y1="745.3" x2="625.4" y2="780.1" stroke="#000" stroke-width="1.3" />
<line x1="617.4" y1="745.3" x2="633.4" y2="745.3" stroke="#000" stroke-width="1.3" />
<line x1="617.4" y1="780.1" x2="633.4" y2="780.1" stroke="#000" stroke-width="1.3" />
<circle cx="579.00" cy="712.50" r="1.5" fill="#000" />
<circle cx="579.00" cy="741.00" r="1.5" fill="#000" />
<circle cx="579.00" cy="763.50" r="1.5" fill="#000" />
<circle cx="625.40" cy="730.00" r="1.5" fill="#000" />
<circle cx="625.40" cy="767.60" r="1.5" fill="#000" />
<circle cx="625.40" cy="790.40" r="1.5" fill="#000" />
<circle cx="701.50" cy="827.30" r="0.8" fill="#bbb" />
<path d="M577.6,706.2 V700 H626.5 V706.2" fill="none" stroke="#000" stroke-width="1.3"/>
<text x="602.4" y="695.4" font-size="11.6" font-weight="normal" font-style="normal" fill="#000" text-anchor="middle" textLength="35.2" lengthAdjust="spacingAndGlyphs">p=0.02</text>
<line x1="579" y1="827.9" x2="579" y2="831.9" stroke="#000" stroke-width="1.3" />
<line x1="625.4" y1="827.9" x2="625.4" y2="831.9" stroke="#000" stroke-width="1.3" />
<text x="579" y="846.8" font-size="11" font-weight="normal" font-style="normal" fill="#000" text-anchor="middle" >wt</text>
<text x="601.8" y="846.6" font-size="11.5" font-weight="normal" font-style="italic" fill="#000" text-anchor="start" textLength="38.6" lengthAdjust="spacingAndGlyphs">hsf-1(2)</text>
<text x="640" y="838" font-size="8.4" font-weight="normal" font-style="italic" fill="#000" text-anchor="start" textLength="24" lengthAdjust="spacingAndGlyphs">neuro</text>
<defs><filter id="bl1" x="-20%" y="-50%" width="140%" height="200%"><feGaussianBlur stdDeviation="1.2"/></filter><filter id="bl2" x="-20%" y="-50%" width="140%" height="200%"><feGaussianBlur stdDeviation="2"/></filter><filter id="bl05"><feGaussianBlur stdDeviation="0.5"/></filter></defs>
<defs><filter id="texF" x="-5%" y="-50%" width="110%" height="200%"><feGaussianBlur in="SourceGraphic" stdDeviation="1.3" result="b"/><feTurbulence type="fractalNoise" baseFrequency="0.55" numOctaves="2" seed="4" result="n"/><feColorMatrix in="n" type="matrix" values="0 0 0 0 0.50  0 0 0 0 0.86  0 0 0 0 0.20  2.5 0 0 0 -1.2" result="g"/><feComposite in="g" in2="b" operator="in"/></filter><filter id="texF2" x="-5%" y="-50%" width="110%" height="200%"><feGaussianBlur in="SourceGraphic" stdDeviation="1.8" result="b"/><feTurbulence type="fractalNoise" baseFrequency="0.08 0.3" numOctaves="2" seed="9" result="n"/><feColorMatrix in="n" type="matrix" values="0 0 0 0 0.30  0 0 0 0 0.62  0 0 0 0 0.12  1.4 0 0 0 -0.65" result="g"/><feComposite in="g" in2="b" operator="in"/></filter></defs>
<clipPath id="f1"><rect x="356.0" y="388.2" width="181.89999999999998" height="16.80000000000001"/></clipPath>
<g clip-path="url(#f1)">
<rect x="356.0" y="388.2" width="181.89999999999998" height="16.80000000000001" fill="#050903" stroke="none" stroke-width="0" />
<path d="M354.0,388.0 L378.0,388.0 L400.0,389.5 L430.0,390.0 L470.0,390.5 L505.0,391.0 L540.0,389.5 L540.0,398.5 L505.0,399.0 L470.0,398.5 L430.0,397.0 L400.0,396.5 L378.0,397.0 L354.0,398.0Z" fill="#2f6612" opacity="0.7" filter="url(#bl1)"/>
<path d="M380.0,400.9 L430.0,401.2 L480.0,401.0 L540.0,400.5 L540.0,404.5 L480.0,405.0 L430.0,404.8 L380.0,404.1Z" fill="#2f6612" opacity="0.55" filter="url(#bl1)"/>
<path d="M354.0,388.5 L372.0,389.5 L380.0,392.0 L380.0,396.0 L372.0,398.5 L354.0,399.5Z" fill="#3f8a1a" opacity="0.8" filter="url(#bl1)"/>
<path d="M354.0,388.0 L378.0,388.0 L400.0,389.5 L430.0,390.0 L470.0,390.5 L505.0,391.0 L540.0,389.5 L540.0,398.5 L505.0,399.0 L470.0,398.5 L430.0,397.0 L400.0,396.5 L378.0,397.0 L354.0,398.0Z" fill="#000" filter="url(#texF)" opacity="0.8"/>
<path d="M380.0,400.9 L430.0,401.2 L480.0,401.0 L540.0,400.5 L540.0,404.5 L480.0,405.0 L430.0,404.8 L380.0,404.1Z" fill="#000" filter="url(#texF)" opacity="0.8"/>
</g>
<clipPath id="f2"><rect x="356.0" y="405.9" width="181.89999999999998" height="18.100000000000023"/></clipPath>
<g clip-path="url(#f2)">
<rect x="356.0" y="405.9" width="181.89999999999998" height="18.100000000000023" fill="#050903" stroke="none" stroke-width="0" />
<path d="M354.0,413.0 L375.0,408.5 L400.0,407.0 L430.0,407.0 L460.0,408.0 L500.0,408.5 L540.0,408.0 L540.0,418.0 L500.0,417.5 L460.0,415.0 L430.0,413.0 L400.0,413.0 L375.0,415.5 L354.0,419.0Z" fill="#2f6612" opacity="0.7" filter="url(#bl1)"/>
<path d="M430.0,419.5 L480.0,419.5 L540.0,419.0 L540.0,423.0 L480.0,423.5 L430.0,422.5Z" fill="#2f6612" opacity="0.45" filter="url(#bl1)"/>
<path d="M354.0,413.0 L375.0,408.5 L400.0,407.0 L430.0,407.0 L460.0,408.0 L500.0,408.5 L540.0,408.0 L540.0,418.0 L500.0,417.5 L460.0,415.0 L430.0,413.0 L400.0,413.0 L375.0,415.5 L354.0,419.0Z" fill="#000" filter="url(#texF)" opacity="0.8"/>
<path d="M430.0,419.5 L480.0,419.5 L540.0,419.0 L540.0,423.0 L480.0,423.5 L430.0,422.5Z" fill="#000" filter="url(#texF)" opacity="0.8"/>
</g>
<clipPath id="f3"><rect x="356.0" y="424.8" width="181.89999999999998" height="17.69999999999999"/></clipPath>
<g clip-path="url(#f3)">
<rect x="356.0" y="424.8" width="181.89999999999998" height="17.69999999999999" fill="#050903" stroke="none" stroke-width="0" />
<path d="M354.0,429.5 L380.0,427.0 L420.0,427.0 L460.0,428.0 L500.0,428.5 L540.0,428.5 L540.0,437.5 L500.0,437.5 L460.0,436.0 L420.0,435.0 L380.0,435.0 L354.0,436.5Z" fill="#2f6612" opacity="0.7" filter="url(#bl1)"/>
<path d="M500.0,429.5 L535.0,429.0 L535.0,437.0 L500.0,436.5Z" fill="#3f8a1a" opacity="0.6" filter="url(#bl1)"/>
<path d="M354.0,429.5 L380.0,427.0 L420.0,427.0 L460.0,428.0 L500.0,428.5 L540.0,428.5 L540.0,437.5 L500.0,437.5 L460.0,436.0 L420.0,435.0 L380.0,435.0 L354.0,436.5Z" fill="#000" filter="url(#texF)" opacity="0.8"/>
</g>
<line x1="356.0" y1="405.45" x2="537.9" y2="405.45" stroke="#b8c8b0" stroke-width="0.9" />
<line x1="356.0" y1="424.4" x2="537.9" y2="424.4" stroke="#5a9a3a" stroke-width="0.9" />
<clipPath id="f4"><rect x="356.0" y="449.8" width="181.89999999999998" height="18.19999999999999"/></clipPath>
<g clip-path="url(#f4)">
<rect x="356.0" y="449.8" width="181.89999999999998" height="18.19999999999999" fill="#040703" stroke="none" stroke-width="0" />
<path d="M354.0,454.0 L400.0,455.0 L440.0,456.5 L480.0,455.5 L540.0,453.0 L540.0,463.0 L480.0,464.5 L440.0,465.5 L400.0,465.0 L354.0,464.0Z" fill="#245610" opacity="0.7" filter="url(#bl2)"/>
<path d="M488.0,455.0 L505.0,455.0 L505.0,461.0 L488.0,461.0Z" fill="#4a9a22" opacity="0.7" filter="url(#bl2)"/>
<path d="M505.0,452.0 L537.0,451.0 L537.0,459.0 L505.0,460.0Z" fill="#3a7a1a" opacity="0.7" filter="url(#bl2)"/>
<path d="M354.0,454.0 L400.0,455.0 L440.0,456.5 L480.0,455.5 L540.0,453.0 L540.0,463.0 L480.0,464.5 L440.0,465.5 L400.0,465.0 L354.0,464.0Z" fill="#000" filter="url(#texF2)" opacity="0.8"/>
</g>
<clipPath id="f5"><rect x="356.0" y="468.8" width="181.89999999999998" height="17.69999999999999"/></clipPath>
<g clip-path="url(#f5)">
<rect x="356.0" y="468.8" width="181.89999999999998" height="17.69999999999999" fill="#040703" stroke="none" stroke-width="0" />
<path d="M354.0,471.0 L400.0,471.5 L440.0,472.5 L480.0,473.0 L540.0,472.0 L540.0,482.0 L480.0,483.0 L440.0,482.5 L400.0,480.5 L354.0,481.0Z" fill="#245610" opacity="0.7" filter="url(#bl2)"/>
<path d="M438.0,474.0 L458.0,474.0 L458.0,482.0 L438.0,482.0Z" fill="#4a9a22" opacity="0.75" filter="url(#bl2)"/>
<path d="M354.0,471.0 L400.0,471.5 L440.0,472.5 L480.0,473.0 L540.0,472.0 L540.0,482.0 L480.0,483.0 L440.0,482.5 L400.0,480.5 L354.0,481.0Z" fill="#000" filter="url(#texF2)" opacity="0.8"/>
</g>
<clipPath id="f6"><rect x="356.0" y="487.3" width="181.89999999999998" height="18.0"/></clipPath>
<g clip-path="url(#f6)">
<rect x="356.0" y="487.3" width="181.89999999999998" height="18.0" fill="#040703" stroke="none" stroke-width="0" />
<path d="M354.0,490.0 L400.0,491.5 L440.0,491.0 L480.0,491.0 L540.0,490.5 L540.0,499.5 L480.0,501.0 L440.0,501.0 L400.0,500.5 L354.0,500.0Z" fill="#245610" opacity="0.7" filter="url(#bl2)"/>
<path d="M436.0,491.5 L452.0,491.5 L452.0,499.5 L436.0,499.5Z" fill="#4fa225" opacity="0.8" filter="url(#bl2)"/>
<path d="M488.0,490.5 L508.0,490.5 L508.0,497.5 L488.0,497.5Z" fill="#428f20" opacity="0.7" filter="url(#bl2)"/>
<path d="M354.0,490.0 L400.0,491.5 L440.0,491.0 L480.0,491.0 L540.0,490.5 L540.0,499.5 L480.0,501.0 L440.0,501.0 L400.0,500.5 L354.0,500.0Z" fill="#000" filter="url(#texF2)" opacity="0.8"/>
</g>
<line x1="356.0" y1="468.4" x2="537.9" y2="468.4" stroke="#4f9a2f" stroke-width="1.0" />
<line x1="356.0" y1="486.9" x2="537.9" y2="486.9" stroke="#4f9a2f" stroke-width="1.0" />
<text x="359.3" y="462.2" font-size="13.5" font-weight="bold" fill="#fff" textLength="30.4" lengthAdjust="spacingAndGlyphs">hsf-1</text>
<text x="391" y="457" font-size="8.6" font-weight="bold" fill="#fff" textLength="26.5" lengthAdjust="spacingAndGlyphs">neuro</text>
<text x="418.8" y="462.2" font-size="13.5" font-weight="bold" fill="#fff" textLength="15.9" lengthAdjust="spacingAndGlyphs">#2</text>
<rect x="502.7" y="508.9" width="35.7" height="1.6" fill="#000" stroke="none" stroke-width="0" />
<defs><filter id="bl15" x="-10%" y="-60%" width="120%" height="220%"><feGaussianBlur stdDeviation="1.5"/></filter><filter id="texI" x="-5%" y="-60%" width="110%" height="220%"><feGaussianBlur in="SourceGraphic" stdDeviation="1.5" result="b"/><feTurbulence type="fractalNoise" baseFrequency="0.35" numOctaves="2" seed="7" result="n"/><feColorMatrix in="n" type="matrix" values="0 0 0 0 0.74  0 0 0 0 0.92  0 0 0 0 0.38  2.2 0 0 0 -1.1" result="g"/><feComposite in="g" in2="b" operator="in"/></filter></defs>
<clipPath id="i1"><rect x="152.4" y="669.1" width="172.6" height="19.0"/></clipPath>
<g clip-path="url(#i1)">
<rect x="152.4" y="669.1" width="172.6" height="19.0" fill="#80827a" stroke="none" stroke-width="0" />
<path d="M150.0,671.0 L200.0,670.5 L240.0,671.0 L265.0,674.0 L290.0,668.5 L330.0,668.5 L330.0,681.5 L290.0,681.5 L265.0,684.0 L240.0,683.0 L200.0,683.5 L150.0,685.0Z" fill="#878a81" stroke="#a4a69e" stroke-width="0.7" opacity="0.9"/>
<path d="M150.0,675.5 L175.0,674.0 L200.0,673.0 L240.0,674.0 L265.0,675.5 L290.0,671.0 L330.0,671.0 L330.0,679.0 L290.0,679.0 L265.0,680.5 L240.0,681.0 L200.0,681.0 L175.0,682.0 L150.0,684.5Z" fill="#9cc84c" opacity="0.58" filter="url(#bl15)"/>
<path d="M150.0,675.5 L175.0,674.0 L200.0,673.0 L240.0,674.0 L265.0,675.5 L290.0,671.0 L330.0,671.0 L330.0,679.0 L290.0,679.0 L265.0,680.5 L240.0,681.0 L200.0,681.0 L175.0,682.0 L150.0,684.5Z" fill="#000" filter="url(#texI)" opacity="0.4"/>
<circle cx="231.4" cy="674.0" r="0.78" fill="#c0ec60" opacity="0.33"/>
<circle cx="255.7" cy="676.7" r="0.61" fill="#c0ec60" opacity="0.33"/>
<circle cx="263.4" cy="678.1" r="0.68" fill="#c0ec60" opacity="0.18"/>
<circle cx="295.7" cy="674.2" r="0.92" fill="#c0ec60" opacity="0.16"/>
<circle cx="326.8" cy="677.6" r="0.87" fill="#c0ec60" opacity="0.21"/>
<circle cx="152.7" cy="679.1" r="0.82" fill="#c0ec60" opacity="0.17"/>
<circle cx="184.2" cy="677.7" r="0.78" fill="#c0ec60" opacity="0.30"/>
<circle cx="301.6" cy="675.4" r="0.81" fill="#c0ec60" opacity="0.37"/>
<circle cx="240.0" cy="676.6" r="0.67" fill="#c0ec60" opacity="0.50"/>
<circle cx="329.2" cy="673.3" r="1.00" fill="#c0ec60" opacity="0.40"/>
<circle cx="206.7" cy="677.3" r="0.54" fill="#c0ec60" opacity="0.42"/>
<circle cx="222.1" cy="678.6" r="1.01" fill="#c0ec60" opacity="0.29"/>
<circle cx="322.4" cy="675.0" r="0.63" fill="#c0ec60" opacity="0.47"/>
<circle cx="234.6" cy="677.4" r="1.09" fill="#c0ec60" opacity="0.29"/>
<circle cx="163.1" cy="676.7" r="0.66" fill="#c0ec60" opacity="0.18"/>
<circle cx="209.9" cy="674.9" r="1.08" fill="#c0ec60" opacity="0.42"/>
<circle cx="171.2" cy="678.3" r="0.54" fill="#c0ec60" opacity="0.43"/>
<circle cx="182.0" cy="678.6" r="0.84" fill="#c0ec60" opacity="0.31"/>
<circle cx="184.3" cy="677.5" r="0.89" fill="#c0ec60" opacity="0.19"/>
<circle cx="225.7" cy="676.5" r="0.63" fill="#c0ec60" opacity="0.24"/>
<circle cx="324.8" cy="675.5" r="1.03" fill="#c0ec60" opacity="0.22"/>
<circle cx="221.0" cy="675.9" r="1.01" fill="#c0ec60" opacity="0.37"/>
<circle cx="168.1" cy="679.8" r="0.65" fill="#c0ec60" opacity="0.42"/>
<circle cx="209.2" cy="677.0" r="0.68" fill="#c0ec60" opacity="0.18"/>
<circle cx="166.2" cy="677.5" r="0.86" fill="#c0ec60" opacity="0.28"/>
<circle cx="231.6" cy="676.8" r="1.08" fill="#c0ec60" opacity="0.32"/>
<circle cx="253.4" cy="678.3" r="0.59" fill="#c0ec60" opacity="0.47"/>
<circle cx="297.2" cy="674.1" r="0.65" fill="#c0ec60" opacity="0.22"/>
<circle cx="283.1" cy="676.8" r="1.07" fill="#c0ec60" opacity="0.46"/>
<circle cx="258.6" cy="677.6" r="0.75" fill="#c0ec60" opacity="0.19"/>
<circle cx="157.0" cy="680.9" r="0.92" fill="#c0ec60" opacity="0.24"/>
<circle cx="298.3" cy="674.7" r="0.86" fill="#c0ec60" opacity="0.25"/>
<circle cx="181.6" cy="677.6" r="0.64" fill="#c0ec60" opacity="0.35"/>
<circle cx="303.4" cy="674.3" r="0.87" fill="#c0ec60" opacity="0.25"/>
<circle cx="315.1" cy="675.1" r="0.66" fill="#c0ec60" opacity="0.31"/>
<circle cx="160.9" cy="679.5" r="0.61" fill="#c0ec60" opacity="0.28"/>
<circle cx="253.0" cy="678.6" r="1.03" fill="#c0ec60" opacity="0.49"/>
<circle cx="268.2" cy="678.5" r="0.91" fill="#c0ec60" opacity="0.35"/>
<circle cx="175.3" cy="678.3" r="1.05" fill="#c0ec60" opacity="0.40"/>
<circle cx="323.3" cy="675.1" r="0.51" fill="#c0ec60" opacity="0.37"/>
<circle cx="236.8" cy="677.3" r="1.10" fill="#c0ec60" opacity="0.18"/>
<circle cx="248.3" cy="676.4" r="0.94" fill="#c0ec60" opacity="0.47"/>
<circle cx="282.7" cy="675.1" r="1.05" fill="#c0ec60" opacity="0.27"/>
<circle cx="273.3" cy="674.7" r="1.04" fill="#c0ec60" opacity="0.45"/>
<circle cx="225.1" cy="678.1" r="0.84" fill="#c0ec60" opacity="0.37"/>
<circle cx="218.8" cy="674.0" r="0.85" fill="#c0ec60" opacity="0.36"/>
<circle cx="164.4" cy="675.0" r="1.03" fill="#c0ec60" opacity="0.40"/>
<circle cx="219.9" cy="673.1" r="0.94" fill="#c0ec60" opacity="0.35"/>
<circle cx="229.3" cy="677.7" r="0.95" fill="#c0ec60" opacity="0.16"/>
<circle cx="258.2" cy="677.4" r="0.79" fill="#c0ec60" opacity="0.23"/>
<path d="M150.0,676.5 L166.0,678.0 L166.0,684.0 L150.0,685.5Z" fill="#aee050" opacity="0.68" filter="url(#bl15)"/>
<path d="M150.0,676.5 L166.0,678.0 L166.0,684.0 L150.0,685.5Z" fill="#000" filter="url(#texI)" opacity="0.4"/>
<circle cx="161.2" cy="678.9" r="1.05" fill="#c0ec60" opacity="0.24"/>
<circle cx="150.2" cy="681.0" r="0.68" fill="#c0ec60" opacity="0.39"/>
<circle cx="153.2" cy="683.0" r="0.90" fill="#c0ec60" opacity="0.30"/>
<circle cx="164.3" cy="683.7" r="0.70" fill="#c0ec60" opacity="0.38"/>
<circle cx="153.2" cy="677.9" r="1.05" fill="#c0ec60" opacity="0.46"/>
<circle cx="156.2" cy="682.3" r="0.85" fill="#c0ec60" opacity="0.26"/>
<circle cx="152.2" cy="677.3" r="1.01" fill="#c0ec60" opacity="0.40"/>
<circle cx="165.2" cy="681.1" r="0.67" fill="#c0ec60" opacity="0.21"/>
<path d="M285.0,673.0 L295.0,671.0 L325.0,671.0 L325.0,679.0 L295.0,679.0 L285.0,677.0Z" fill="#aee050" opacity="0.68" filter="url(#bl15)"/>
<path d="M285.0,673.0 L295.0,671.0 L325.0,671.0 L325.0,679.0 L295.0,679.0 L285.0,677.0Z" fill="#000" filter="url(#texI)" opacity="0.4"/>
<circle cx="303.0" cy="674.8" r="0.75" fill="#c0ec60" opacity="0.37"/>
<circle cx="304.8" cy="676.2" r="0.69" fill="#c0ec60" opacity="0.44"/>
<circle cx="324.3" cy="674.3" r="0.52" fill="#c0ec60" opacity="0.46"/>
<circle cx="286.7" cy="675.1" r="0.93" fill="#c0ec60" opacity="0.35"/>
<circle cx="297.4" cy="675.1" r="0.58" fill="#c0ec60" opacity="0.31"/>
<circle cx="286.0" cy="674.8" r="1.00" fill="#c0ec60" opacity="0.23"/>
<circle cx="290.6" cy="676.9" r="0.77" fill="#c0ec60" opacity="0.37"/>
<circle cx="311.2" cy="675.7" r="0.98" fill="#c0ec60" opacity="0.49"/>
<circle cx="312.4" cy="675.6" r="0.61" fill="#c0ec60" opacity="0.15"/>
<circle cx="303.9" cy="676.9" r="0.93" fill="#c0ec60" opacity="0.21"/>
<circle cx="295.9" cy="673.4" r="0.81" fill="#c0ec60" opacity="0.37"/>
<circle cx="315.2" cy="677.3" r="0.74" fill="#c0ec60" opacity="0.43"/>
<circle cx="321.2" cy="678.6" r="0.93" fill="#c0ec60" opacity="0.20"/>
<circle cx="303.1" cy="677.2" r="0.88" fill="#c0ec60" opacity="0.47"/>
<circle cx="300.1" cy="671.6" r="0.98" fill="#c0ec60" opacity="0.48"/>
<circle cx="303.5" cy="673.4" r="0.89" fill="#c0ec60" opacity="0.22"/>
<circle cx="313.9" cy="676.1" r="0.93" fill="#c0ec60" opacity="0.22"/>
<circle cx="321.0" cy="672.7" r="1.09" fill="#c0ec60" opacity="0.49"/>
<circle cx="306.5" cy="675.4" r="1.05" fill="#c0ec60" opacity="0.45"/>
<circle cx="298.9" cy="673.5" r="0.55" fill="#c0ec60" opacity="0.30"/>
</g>
<clipPath id="i2"><rect x="152.4" y="689.4" width="172.6" height="19.399999999999977"/></clipPath>
<g clip-path="url(#i2)">
<rect x="152.4" y="689.4" width="172.6" height="19.399999999999977" fill="#80827a" stroke="none" stroke-width="0" />
<path d="M150.0,691.0 L180.0,693.5 L220.0,694.0 L260.0,694.5 L300.0,695.0 L330.0,693.0 L330.0,705.0 L300.0,707.0 L260.0,707.5 L220.0,706.0 L180.0,706.5 L150.0,703.0Z" fill="#878a81" stroke="#a4a69e" stroke-width="0.7" opacity="0.9"/>
<path d="M155.0,692.0 L175.0,693.0 L190.0,698.0 L215.0,698.0 L232.0,696.0 L262.0,698.0 L290.0,699.5 L315.0,696.0 L330.0,695.0 L330.0,703.0 L315.0,704.0 L290.0,706.5 L262.0,706.0 L232.0,704.0 L215.0,704.0 L190.0,704.0 L175.0,701.0 L155.0,700.0Z" fill="#9cc84c" opacity="0.58" filter="url(#bl15)"/>
<path d="M155.0,692.0 L175.0,693.0 L190.0,698.0 L215.0,698.0 L232.0,696.0 L262.0,698.0 L290.0,699.5 L315.0,696.0 L330.0,695.0 L330.0,703.0 L315.0,704.0 L290.0,706.5 L262.0,706.0 L232.0,704.0 L215.0,704.0 L190.0,704.0 L175.0,701.0 L155.0,700.0Z" fill="#000" filter="url(#texI)" opacity="0.4"/>
<circle cx="251.3" cy="701.5" r="0.52" fill="#c0ec60" opacity="0.43"/>
<circle cx="166.2" cy="694.5" r="0.98" fill="#c0ec60" opacity="0.21"/>
<circle cx="213.6" cy="701.2" r="0.59" fill="#c0ec60" opacity="0.33"/>
<circle cx="281.6" cy="701.8" r="1.00" fill="#c0ec60" opacity="0.39"/>
<circle cx="320.5" cy="695.2" r="0.55" fill="#c0ec60" opacity="0.23"/>
<circle cx="247.2" cy="701.2" r="0.67" fill="#c0ec60" opacity="0.41"/>
<circle cx="266.8" cy="698.8" r="0.84" fill="#c0ec60" opacity="0.26"/>
<circle cx="221.7" cy="700.2" r="1.01" fill="#c0ec60" opacity="0.47"/>
<circle cx="191.4" cy="703.1" r="0.81" fill="#c0ec60" opacity="0.35"/>
<circle cx="190.2" cy="698.1" r="0.82" fill="#c0ec60" opacity="0.33"/>
<circle cx="260.9" cy="706.6" r="0.81" fill="#c0ec60" opacity="0.29"/>
<circle cx="295.2" cy="703.1" r="0.84" fill="#c0ec60" opacity="0.32"/>
<circle cx="275.9" cy="704.4" r="0.75" fill="#c0ec60" opacity="0.48"/>
<circle cx="316.6" cy="700.8" r="0.66" fill="#c0ec60" opacity="0.32"/>
<circle cx="177.2" cy="694.7" r="1.04" fill="#c0ec60" opacity="0.32"/>
<circle cx="210.5" cy="702.0" r="0.61" fill="#c0ec60" opacity="0.37"/>
<circle cx="316.9" cy="702.0" r="0.51" fill="#c0ec60" opacity="0.22"/>
<circle cx="194.8" cy="702.7" r="0.91" fill="#c0ec60" opacity="0.26"/>
<circle cx="217.2" cy="700.4" r="0.94" fill="#c0ec60" opacity="0.19"/>
<circle cx="244.3" cy="700.2" r="0.65" fill="#c0ec60" opacity="0.22"/>
<circle cx="247.8" cy="699.4" r="0.75" fill="#c0ec60" opacity="0.34"/>
<circle cx="183.0" cy="699.7" r="0.62" fill="#c0ec60" opacity="0.37"/>
<circle cx="266.7" cy="698.8" r="0.87" fill="#c0ec60" opacity="0.45"/>
<circle cx="195.7" cy="700.5" r="0.94" fill="#c0ec60" opacity="0.43"/>
<circle cx="313.0" cy="699.6" r="1.05" fill="#c0ec60" opacity="0.23"/>
<circle cx="329.7" cy="700.5" r="1.03" fill="#c0ec60" opacity="0.20"/>
<circle cx="196.9" cy="700.8" r="0.56" fill="#c0ec60" opacity="0.44"/>
<circle cx="228.8" cy="698.9" r="0.97" fill="#c0ec60" opacity="0.19"/>
<circle cx="225.5" cy="700.3" r="0.62" fill="#c0ec60" opacity="0.39"/>
<circle cx="314.5" cy="699.7" r="1.08" fill="#c0ec60" opacity="0.19"/>
<circle cx="243.5" cy="700.9" r="0.91" fill="#c0ec60" opacity="0.22"/>
<circle cx="167.3" cy="694.5" r="0.56" fill="#c0ec60" opacity="0.16"/>
<circle cx="251.5" cy="699.0" r="0.59" fill="#c0ec60" opacity="0.21"/>
<circle cx="190.7" cy="700.8" r="1.00" fill="#c0ec60" opacity="0.50"/>
<circle cx="317.2" cy="700.4" r="1.07" fill="#c0ec60" opacity="0.31"/>
<circle cx="288.8" cy="703.3" r="0.70" fill="#c0ec60" opacity="0.31"/>
<circle cx="245.2" cy="698.7" r="0.51" fill="#c0ec60" opacity="0.40"/>
<circle cx="302.7" cy="702.4" r="0.61" fill="#c0ec60" opacity="0.31"/>
<circle cx="284.4" cy="701.9" r="0.60" fill="#c0ec60" opacity="0.33"/>
<circle cx="157.7" cy="696.8" r="1.04" fill="#c0ec60" opacity="0.43"/>
<circle cx="278.3" cy="704.1" r="0.74" fill="#c0ec60" opacity="0.36"/>
<circle cx="243.3" cy="698.8" r="1.09" fill="#c0ec60" opacity="0.43"/>
<circle cx="200.2" cy="702.9" r="0.97" fill="#c0ec60" opacity="0.44"/>
<circle cx="226.0" cy="698.9" r="1.04" fill="#c0ec60" opacity="0.46"/>
<circle cx="276.6" cy="702.8" r="0.74" fill="#c0ec60" opacity="0.40"/>
<circle cx="167.3" cy="693.6" r="0.71" fill="#c0ec60" opacity="0.31"/>
<circle cx="156.9" cy="694.5" r="0.87" fill="#c0ec60" opacity="0.23"/>
<circle cx="320.3" cy="701.7" r="0.90" fill="#c0ec60" opacity="0.27"/>
<circle cx="270.5" cy="700.4" r="0.73" fill="#c0ec60" opacity="0.50"/>
<circle cx="267.4" cy="701.3" r="0.92" fill="#c0ec60" opacity="0.42"/>
<path d="M156.0,692.5 L176.0,692.0 L186.0,696.0 L186.0,700.0 L176.0,700.0 L156.0,699.5Z" fill="#aee050" opacity="0.72" filter="url(#bl15)"/>
<path d="M156.0,692.5 L176.0,692.0 L186.0,696.0 L186.0,700.0 L176.0,700.0 L156.0,699.5Z" fill="#000" filter="url(#texI)" opacity="0.4"/>
<circle cx="185.4" cy="699.2" r="0.94" fill="#c0ec60" opacity="0.24"/>
<circle cx="168.0" cy="696.3" r="0.53" fill="#c0ec60" opacity="0.22"/>
<circle cx="167.3" cy="697.1" r="1.04" fill="#c0ec60" opacity="0.34"/>
<circle cx="171.2" cy="696.8" r="1.08" fill="#c0ec60" opacity="0.35"/>
<circle cx="185.9" cy="696.9" r="0.55" fill="#c0ec60" opacity="0.36"/>
<circle cx="178.8" cy="694.4" r="0.53" fill="#c0ec60" opacity="0.48"/>
<circle cx="160.8" cy="695.0" r="0.80" fill="#c0ec60" opacity="0.36"/>
<circle cx="157.8" cy="696.2" r="1.07" fill="#c0ec60" opacity="0.30"/>
<circle cx="171.8" cy="694.6" r="0.67" fill="#c0ec60" opacity="0.38"/>
<circle cx="172.8" cy="695.0" r="0.67" fill="#c0ec60" opacity="0.40"/>
<circle cx="164.9" cy="697.3" r="0.53" fill="#c0ec60" opacity="0.20"/>
<circle cx="178.6" cy="696.6" r="0.73" fill="#c0ec60" opacity="0.46"/>
<path d="M300.0,700.0 L315.0,695.0 L325.0,695.0 L325.0,704.0 L315.0,704.0 L300.0,704.0Z" fill="#aee050" opacity="0.68" filter="url(#bl15)"/>
<path d="M300.0,700.0 L315.0,695.0 L325.0,695.0 L325.0,704.0 L315.0,704.0 L300.0,704.0Z" fill="#000" filter="url(#texI)" opacity="0.4"/>
<circle cx="318.7" cy="705.3" r="1.07" fill="#c0ec60" opacity="0.18"/>
<circle cx="322.6" cy="701.4" r="0.76" fill="#c0ec60" opacity="0.32"/>
<circle cx="324.3" cy="699.6" r="1.06" fill="#c0ec60" opacity="0.40"/>
<circle cx="311.7" cy="702.2" r="1.09" fill="#c0ec60" opacity="0.44"/>
<circle cx="315.1" cy="701.6" r="0.77" fill="#c0ec60" opacity="0.22"/>
<circle cx="301.3" cy="702.7" r="0.82" fill="#c0ec60" opacity="0.19"/>
<circle cx="311.1" cy="699.2" r="0.66" fill="#c0ec60" opacity="0.35"/>
<circle cx="310.5" cy="698.6" r="0.97" fill="#c0ec60" opacity="0.34"/>
<circle cx="324.9" cy="702.7" r="0.64" fill="#c0ec60" opacity="0.19"/>
<circle cx="322.3" cy="698.5" r="0.97" fill="#c0ec60" opacity="0.37"/>
<circle cx="309.0" cy="700.2" r="0.84" fill="#c0ec60" opacity="0.36"/>
<circle cx="315.8" cy="702.6" r="0.95" fill="#c0ec60" opacity="0.22"/>
</g>
<clipPath id="i3"><rect x="152.4" y="710.1" width="172.6" height="19.600000000000023"/></clipPath>
<g clip-path="url(#i3)">
<rect x="152.4" y="710.1" width="172.6" height="19.600000000000023" fill="#80827a" stroke="none" stroke-width="0" />
<path d="M150.0,715.0 L200.0,714.5 L250.0,714.0 L275.0,710.0 L295.0,712.0 L310.0,718.0 L330.0,718.0 L330.0,730.0 L310.0,730.0 L295.0,724.0 L275.0,722.0 L250.0,726.0 L200.0,727.5 L150.0,727.0Z" fill="#878a81" stroke="#a4a69e" stroke-width="0.7" opacity="0.9"/>
<path d="M150.0,716.5 L200.0,717.0 L240.0,716.0 L270.0,712.5 L290.0,712.0 L302.0,717.0 L315.0,721.5 L330.0,721.5 L330.0,728.5 L315.0,728.5 L302.0,725.0 L290.0,720.0 L270.0,719.5 L240.0,724.0 L200.0,725.0 L150.0,725.5Z" fill="#9cc84c" opacity="0.58" filter="url(#bl15)"/>
<path d="M150.0,716.5 L200.0,717.0 L240.0,716.0 L270.0,712.5 L290.0,712.0 L302.0,717.0 L315.0,721.5 L330.0,721.5 L330.0,728.5 L315.0,728.5 L302.0,725.0 L290.0,720.0 L270.0,719.5 L240.0,724.0 L200.0,725.0 L150.0,725.5Z" fill="#000" filter="url(#texI)" opacity="0.4"/>
<circle cx="194.8" cy="725.0" r="1.03" fill="#c0ec60" opacity="0.16"/>
<circle cx="160.9" cy="720.4" r="0.66" fill="#c0ec60" opacity="0.30"/>
<circle cx="262.2" cy="718.7" r="0.54" fill="#c0ec60" opacity="0.18"/>
<circle cx="271.7" cy="717.2" r="0.83" fill="#c0ec60" opacity="0.37"/>
<circle cx="217.2" cy="719.3" r="0.71" fill="#c0ec60" opacity="0.41"/>
<circle cx="300.9" cy="720.7" r="0.54" fill="#c0ec60" opacity="0.19"/>
<circle cx="295.7" cy="716.2" r="0.63" fill="#c0ec60" opacity="0.30"/>
<circle cx="196.5" cy="718.8" r="0.99" fill="#c0ec60" opacity="0.28"/>
<circle cx="267.7" cy="717.7" r="0.83" fill="#c0ec60" opacity="0.41"/>
<circle cx="315.7" cy="724.9" r="0.76" fill="#c0ec60" opacity="0.28"/>
<circle cx="167.5" cy="721.6" r="0.55" fill="#c0ec60" opacity="0.35"/>
<circle cx="237.3" cy="719.6" r="0.91" fill="#c0ec60" opacity="0.25"/>
<circle cx="289.6" cy="717.1" r="0.90" fill="#c0ec60" opacity="0.18"/>
<circle cx="204.7" cy="721.5" r="0.93" fill="#c0ec60" opacity="0.39"/>
<circle cx="200.9" cy="722.0" r="0.94" fill="#c0ec60" opacity="0.28"/>
<circle cx="171.1" cy="722.4" r="0.93" fill="#c0ec60" opacity="0.35"/>
<circle cx="315.3" cy="728.2" r="0.76" fill="#c0ec60" opacity="0.43"/>
<circle cx="204.9" cy="719.4" r="0.69" fill="#c0ec60" opacity="0.29"/>
<circle cx="318.2" cy="725.9" r="0.72" fill="#c0ec60" opacity="0.28"/>
<circle cx="215.4" cy="719.8" r="0.74" fill="#c0ec60" opacity="0.29"/>
<circle cx="185.1" cy="717.9" r="0.82" fill="#c0ec60" opacity="0.44"/>
<circle cx="251.3" cy="717.3" r="0.61" fill="#c0ec60" opacity="0.42"/>
<circle cx="308.6" cy="722.9" r="0.81" fill="#c0ec60" opacity="0.34"/>
<circle cx="252.1" cy="718.7" r="1.08" fill="#c0ec60" opacity="0.38"/>
<circle cx="294.8" cy="720.1" r="0.97" fill="#c0ec60" opacity="0.18"/>
<circle cx="164.7" cy="722.0" r="0.94" fill="#c0ec60" opacity="0.46"/>
<circle cx="165.2" cy="720.3" r="0.95" fill="#c0ec60" opacity="0.38"/>
<circle cx="194.2" cy="720.2" r="0.63" fill="#c0ec60" opacity="0.42"/>
<circle cx="243.9" cy="719.6" r="0.70" fill="#c0ec60" opacity="0.49"/>
<circle cx="271.0" cy="714.4" r="0.80" fill="#c0ec60" opacity="0.34"/>
<circle cx="279.8" cy="715.0" r="0.75" fill="#c0ec60" opacity="0.44"/>
<circle cx="270.0" cy="712.6" r="1.01" fill="#c0ec60" opacity="0.43"/>
<circle cx="300.1" cy="723.7" r="0.88" fill="#c0ec60" opacity="0.33"/>
<circle cx="277.8" cy="713.3" r="0.98" fill="#c0ec60" opacity="0.30"/>
<circle cx="225.7" cy="722.2" r="1.09" fill="#c0ec60" opacity="0.28"/>
<circle cx="180.2" cy="723.5" r="0.62" fill="#c0ec60" opacity="0.30"/>
<circle cx="202.6" cy="721.6" r="0.69" fill="#c0ec60" opacity="0.19"/>
<circle cx="266.6" cy="716.3" r="0.97" fill="#c0ec60" opacity="0.21"/>
<circle cx="161.2" cy="718.5" r="1.05" fill="#c0ec60" opacity="0.16"/>
<circle cx="169.6" cy="721.7" r="0.61" fill="#c0ec60" opacity="0.23"/>
<circle cx="192.4" cy="720.5" r="0.63" fill="#c0ec60" opacity="0.21"/>
<circle cx="200.6" cy="718.6" r="0.60" fill="#c0ec60" opacity="0.42"/>
<circle cx="206.1" cy="717.7" r="0.79" fill="#c0ec60" opacity="0.24"/>
<circle cx="309.7" cy="722.5" r="1.05" fill="#c0ec60" opacity="0.27"/>
<circle cx="248.5" cy="720.8" r="0.63" fill="#c0ec60" opacity="0.17"/>
<circle cx="320.6" cy="724.5" r="0.98" fill="#c0ec60" opacity="0.28"/>
<circle cx="245.0" cy="717.9" r="1.09" fill="#c0ec60" opacity="0.38"/>
<circle cx="192.8" cy="720.9" r="0.51" fill="#c0ec60" opacity="0.32"/>
<circle cx="216.9" cy="721.4" r="0.86" fill="#c0ec60" opacity="0.21"/>
<circle cx="178.2" cy="718.1" r="0.69" fill="#c0ec60" opacity="0.24"/>
<path d="M152.0,716.5 L175.0,717.0 L185.0,719.0 L185.0,723.0 L175.0,725.0 L152.0,725.5Z" fill="#aee050" opacity="0.72" filter="url(#bl15)"/>
<path d="M152.0,716.5 L175.0,717.0 L185.0,719.0 L185.0,723.0 L175.0,725.0 L152.0,725.5Z" fill="#000" filter="url(#texI)" opacity="0.4"/>
<circle cx="180.7" cy="719.2" r="1.10" fill="#c0ec60" opacity="0.24"/>
<circle cx="169.6" cy="720.7" r="0.59" fill="#c0ec60" opacity="0.42"/>
<circle cx="152.0" cy="722.7" r="0.99" fill="#c0ec60" opacity="0.18"/>
<circle cx="160.9" cy="717.6" r="0.93" fill="#c0ec60" opacity="0.18"/>
<circle cx="167.8" cy="716.4" r="0.85" fill="#c0ec60" opacity="0.45"/>
<circle cx="162.0" cy="721.9" r="0.97" fill="#c0ec60" opacity="0.30"/>
<circle cx="182.3" cy="722.8" r="0.63" fill="#c0ec60" opacity="0.34"/>
<circle cx="169.3" cy="722.9" r="0.59" fill="#c0ec60" opacity="0.44"/>
<circle cx="162.3" cy="720.7" r="0.68" fill="#c0ec60" opacity="0.31"/>
<circle cx="175.6" cy="721.6" r="0.72" fill="#c0ec60" opacity="0.39"/>
<circle cx="155.5" cy="719.3" r="1.08" fill="#c0ec60" opacity="0.44"/>
<circle cx="173.6" cy="722.2" r="0.51" fill="#c0ec60" opacity="0.28"/>
<path d="M300.0,722.0 L310.0,721.5 L325.0,721.5 L325.0,728.5 L310.0,728.5 L300.0,726.0Z" fill="#aee050" opacity="0.72" filter="url(#bl15)"/>
<path d="M300.0,722.0 L310.0,721.5 L325.0,721.5 L325.0,728.5 L310.0,728.5 L300.0,726.0Z" fill="#000" filter="url(#texI)" opacity="0.4"/>
<circle cx="317.8" cy="725.2" r="0.77" fill="#c0ec60" opacity="0.15"/>
<circle cx="324.8" cy="727.0" r="0.98" fill="#c0ec60" opacity="0.22"/>
<circle cx="315.4" cy="724.6" r="0.82" fill="#c0ec60" opacity="0.25"/>
<circle cx="308.4" cy="726.2" r="0.74" fill="#c0ec60" opacity="0.38"/>
<circle cx="306.4" cy="725.3" r="0.70" fill="#c0ec60" opacity="0.48"/>
<circle cx="314.1" cy="727.4" r="0.93" fill="#c0ec60" opacity="0.27"/>
<circle cx="320.7" cy="725.7" r="0.56" fill="#c0ec60" opacity="0.39"/>
<circle cx="317.7" cy="725.5" r="0.61" fill="#c0ec60" opacity="0.29"/>
<circle cx="320.9" cy="724.4" r="0.64" fill="#c0ec60" opacity="0.20"/>
<circle cx="303.1" cy="724.0" r="0.74" fill="#c0ec60" opacity="0.18"/>
<circle cx="323.0" cy="723.3" r="0.89" fill="#c0ec60" opacity="0.42"/>
<circle cx="320.5" cy="725.8" r="0.73" fill="#c0ec60" opacity="0.27"/>
</g>
<line x1="152.4" y1="688.75" x2="325.0" y2="688.75" stroke="#d8dad4" stroke-width="1.4" />
<line x1="152.4" y1="709.45" x2="325.0" y2="709.45" stroke="#d8dad4" stroke-width="1.4" />
<clipPath id="i4"><rect x="152.4" y="736.4" width="172.6" height="19.899999999999977"/></clipPath>
<g clip-path="url(#i4)">
<rect x="152.4" y="736.4" width="172.6" height="19.899999999999977" fill="#80827a" stroke="none" stroke-width="0" />
<path d="M150.0,740.0 L200.0,740.0 L250.0,739.0 L300.0,738.5 L330.0,739.0 L330.0,751.0 L300.0,751.5 L250.0,751.0 L200.0,752.0 L150.0,752.0Z" fill="#878a81" stroke="#a4a69e" stroke-width="0.7" opacity="0.9"/>
<path d="M150.0,743.5 L200.0,743.0 L230.0,742.0 L260.0,742.5 L290.0,742.5 L310.0,742.0 L330.0,741.5 L330.0,746.5 L310.0,748.0 L290.0,749.5 L260.0,749.5 L230.0,748.0 L200.0,749.0 L150.0,748.5Z" fill="#9cc84c" opacity="0.47" filter="url(#bl15)"/>
<path d="M150.0,743.5 L200.0,743.0 L230.0,742.0 L260.0,742.5 L290.0,742.5 L310.0,742.0 L330.0,741.5 L330.0,746.5 L310.0,748.0 L290.0,749.5 L260.0,749.5 L230.0,748.0 L200.0,749.0 L150.0,748.5Z" fill="#000" filter="url(#texI)" opacity="0.4"/>
<circle cx="224.2" cy="746.6" r="0.92" fill="#c0ec60" opacity="0.49"/>
<circle cx="292.1" cy="746.0" r="0.90" fill="#c0ec60" opacity="0.36"/>
<circle cx="153.3" cy="745.5" r="0.89" fill="#c0ec60" opacity="0.19"/>
<circle cx="218.0" cy="746.5" r="0.81" fill="#c0ec60" opacity="0.43"/>
<circle cx="298.5" cy="744.9" r="0.96" fill="#c0ec60" opacity="0.47"/>
<circle cx="248.7" cy="745.1" r="0.71" fill="#c0ec60" opacity="0.33"/>
<circle cx="175.5" cy="745.2" r="0.81" fill="#c0ec60" opacity="0.40"/>
<circle cx="300.4" cy="741.3" r="0.62" fill="#c0ec60" opacity="0.48"/>
<circle cx="262.9" cy="746.2" r="0.65" fill="#c0ec60" opacity="0.35"/>
<circle cx="275.5" cy="746.6" r="0.70" fill="#c0ec60" opacity="0.48"/>
<circle cx="215.0" cy="744.8" r="1.08" fill="#c0ec60" opacity="0.20"/>
<circle cx="312.7" cy="745.0" r="0.83" fill="#c0ec60" opacity="0.35"/>
<circle cx="250.9" cy="745.4" r="1.10" fill="#c0ec60" opacity="0.44"/>
<circle cx="258.3" cy="749.4" r="0.57" fill="#c0ec60" opacity="0.44"/>
<circle cx="201.9" cy="746.7" r="0.84" fill="#c0ec60" opacity="0.44"/>
<circle cx="183.4" cy="745.4" r="0.83" fill="#c0ec60" opacity="0.18"/>
<circle cx="155.8" cy="747.4" r="1.06" fill="#c0ec60" opacity="0.38"/>
<circle cx="205.4" cy="749.4" r="0.90" fill="#c0ec60" opacity="0.41"/>
<circle cx="218.7" cy="743.3" r="0.51" fill="#c0ec60" opacity="0.22"/>
<circle cx="234.2" cy="743.8" r="0.59" fill="#c0ec60" opacity="0.29"/>
<circle cx="252.5" cy="746.6" r="0.66" fill="#c0ec60" opacity="0.35"/>
<circle cx="209.8" cy="747.1" r="0.89" fill="#c0ec60" opacity="0.16"/>
<circle cx="270.8" cy="748.4" r="0.86" fill="#c0ec60" opacity="0.31"/>
<circle cx="224.1" cy="747.9" r="0.87" fill="#c0ec60" opacity="0.39"/>
<circle cx="286.4" cy="746.0" r="1.10" fill="#c0ec60" opacity="0.44"/>
<circle cx="303.9" cy="743.7" r="0.75" fill="#c0ec60" opacity="0.30"/>
<circle cx="251.9" cy="747.3" r="0.82" fill="#c0ec60" opacity="0.30"/>
<circle cx="312.8" cy="744.0" r="0.69" fill="#c0ec60" opacity="0.17"/>
<circle cx="280.6" cy="748.1" r="0.86" fill="#c0ec60" opacity="0.41"/>
<circle cx="204.9" cy="744.6" r="0.86" fill="#c0ec60" opacity="0.17"/>
<circle cx="172.4" cy="744.6" r="0.74" fill="#c0ec60" opacity="0.17"/>
<circle cx="275.1" cy="746.6" r="0.82" fill="#c0ec60" opacity="0.23"/>
<circle cx="205.1" cy="745.0" r="0.54" fill="#c0ec60" opacity="0.47"/>
<circle cx="324.0" cy="744.8" r="0.90" fill="#c0ec60" opacity="0.45"/>
<circle cx="225.9" cy="745.5" r="0.95" fill="#c0ec60" opacity="0.35"/>
<circle cx="312.6" cy="744.0" r="0.56" fill="#c0ec60" opacity="0.43"/>
<circle cx="172.3" cy="743.1" r="0.50" fill="#c0ec60" opacity="0.24"/>
<circle cx="203.9" cy="745.1" r="0.69" fill="#c0ec60" opacity="0.17"/>
<circle cx="311.1" cy="745.5" r="0.71" fill="#c0ec60" opacity="0.35"/>
<circle cx="158.3" cy="744.9" r="0.52" fill="#c0ec60" opacity="0.46"/>
<circle cx="205.4" cy="742.7" r="1.09" fill="#c0ec60" opacity="0.32"/>
<circle cx="187.2" cy="746.0" r="0.68" fill="#c0ec60" opacity="0.47"/>
<circle cx="311.4" cy="745.8" r="0.71" fill="#c0ec60" opacity="0.32"/>
<circle cx="180.9" cy="748.3" r="1.03" fill="#c0ec60" opacity="0.50"/>
<circle cx="186.4" cy="745.4" r="1.03" fill="#c0ec60" opacity="0.17"/>
<circle cx="169.1" cy="745.4" r="0.94" fill="#c0ec60" opacity="0.26"/>
<circle cx="312.1" cy="746.3" r="0.58" fill="#c0ec60" opacity="0.39"/>
<circle cx="318.8" cy="743.1" r="0.77" fill="#c0ec60" opacity="0.18"/>
<circle cx="190.2" cy="745.3" r="0.62" fill="#c0ec60" opacity="0.21"/>
<circle cx="192.4" cy="747.9" r="0.90" fill="#c0ec60" opacity="0.43"/>
<path d="M250.0,744.0 L270.0,743.0 L300.0,743.0 L310.0,744.5 L310.0,747.5 L300.0,749.0 L270.0,749.0 L250.0,748.0Z" fill="#aee050" opacity="0.55" filter="url(#bl15)"/>
<path d="M250.0,744.0 L270.0,743.0 L300.0,743.0 L310.0,744.5 L310.0,747.5 L300.0,749.0 L270.0,749.0 L250.0,748.0Z" fill="#000" filter="url(#texI)" opacity="0.4"/>
<circle cx="272.4" cy="744.5" r="0.85" fill="#c0ec60" opacity="0.23"/>
<circle cx="268.1" cy="743.7" r="1.06" fill="#c0ec60" opacity="0.38"/>
<circle cx="266.6" cy="745.6" r="1.09" fill="#c0ec60" opacity="0.30"/>
<circle cx="281.7" cy="745.5" r="0.82" fill="#c0ec60" opacity="0.17"/>
<circle cx="286.0" cy="745.8" r="0.98" fill="#c0ec60" opacity="0.18"/>
<circle cx="267.1" cy="747.0" r="0.95" fill="#c0ec60" opacity="0.24"/>
<circle cx="266.7" cy="745.2" r="1.04" fill="#c0ec60" opacity="0.50"/>
<circle cx="252.0" cy="745.8" r="0.78" fill="#c0ec60" opacity="0.41"/>
<circle cx="273.1" cy="747.4" r="0.61" fill="#c0ec60" opacity="0.34"/>
<circle cx="288.7" cy="745.3" r="0.72" fill="#c0ec60" opacity="0.38"/>
<circle cx="297.0" cy="744.4" r="1.01" fill="#c0ec60" opacity="0.39"/>
<circle cx="281.2" cy="745.8" r="1.07" fill="#c0ec60" opacity="0.21"/>
<circle cx="296.8" cy="746.9" r="0.64" fill="#c0ec60" opacity="0.30"/>
<circle cx="296.4" cy="747.6" r="0.97" fill="#c0ec60" opacity="0.43"/>
<circle cx="264.2" cy="745.1" r="0.85" fill="#c0ec60" opacity="0.32"/>
</g>
<clipPath id="i5"><rect x="152.4" y="757.5" width="172.6" height="20.0"/></clipPath>
<g clip-path="url(#i5)">
<rect x="152.4" y="757.5" width="172.6" height="20.0" fill="#80827a" stroke="none" stroke-width="0" />
<path d="M150.0,758.0 L200.0,759.0 L250.0,760.0 L300.0,762.0 L330.0,763.0 L330.0,775.0 L300.0,774.0 L250.0,772.0 L200.0,771.0 L150.0,770.0Z" fill="#878a81" stroke="#a4a69e" stroke-width="0.7" opacity="0.9"/>
<path d="M152.0,761.5 L190.0,761.5 L230.0,763.0 L260.0,765.0 L290.0,767.5 L330.0,764.5 L330.0,771.5 L290.0,774.5 L260.0,771.0 L230.0,769.0 L190.0,768.5 L152.0,768.5Z" fill="#9cc84c" opacity="0.55" filter="url(#bl15)"/>
<path d="M152.0,761.5 L190.0,761.5 L230.0,763.0 L260.0,765.0 L290.0,767.5 L330.0,764.5 L330.0,771.5 L290.0,774.5 L260.0,771.0 L230.0,769.0 L190.0,768.5 L152.0,768.5Z" fill="#000" filter="url(#texI)" opacity="0.4"/>
<circle cx="158.3" cy="765.1" r="0.86" fill="#c0ec60" opacity="0.40"/>
<circle cx="253.9" cy="768.2" r="0.59" fill="#c0ec60" opacity="0.16"/>
<circle cx="240.3" cy="766.1" r="0.76" fill="#c0ec60" opacity="0.30"/>
<circle cx="198.8" cy="765.4" r="1.04" fill="#c0ec60" opacity="0.35"/>
<circle cx="248.7" cy="766.7" r="0.97" fill="#c0ec60" opacity="0.23"/>
<circle cx="178.0" cy="764.8" r="0.69" fill="#c0ec60" opacity="0.37"/>
<circle cx="245.5" cy="767.4" r="0.66" fill="#c0ec60" opacity="0.36"/>
<circle cx="167.7" cy="765.4" r="0.65" fill="#c0ec60" opacity="0.21"/>
<circle cx="274.9" cy="768.7" r="1.00" fill="#c0ec60" opacity="0.43"/>
<circle cx="162.9" cy="763.7" r="0.63" fill="#c0ec60" opacity="0.49"/>
<circle cx="159.5" cy="765.8" r="0.79" fill="#c0ec60" opacity="0.42"/>
<circle cx="327.5" cy="769.3" r="0.95" fill="#c0ec60" opacity="0.16"/>
<circle cx="194.8" cy="766.5" r="1.03" fill="#c0ec60" opacity="0.20"/>
<circle cx="221.9" cy="765.4" r="0.55" fill="#c0ec60" opacity="0.16"/>
<circle cx="329.3" cy="769.6" r="0.96" fill="#c0ec60" opacity="0.41"/>
<circle cx="192.9" cy="765.0" r="0.65" fill="#c0ec60" opacity="0.31"/>
<circle cx="318.0" cy="770.9" r="0.72" fill="#c0ec60" opacity="0.27"/>
<circle cx="326.7" cy="767.9" r="0.74" fill="#c0ec60" opacity="0.38"/>
<circle cx="162.4" cy="764.7" r="0.71" fill="#c0ec60" opacity="0.39"/>
<circle cx="305.9" cy="767.0" r="0.78" fill="#c0ec60" opacity="0.29"/>
<circle cx="302.1" cy="768.3" r="0.73" fill="#c0ec60" opacity="0.42"/>
<circle cx="190.3" cy="764.4" r="0.83" fill="#c0ec60" opacity="0.21"/>
<circle cx="188.2" cy="765.8" r="0.63" fill="#c0ec60" opacity="0.31"/>
<circle cx="206.9" cy="761.0" r="0.91" fill="#c0ec60" opacity="0.45"/>
<circle cx="188.4" cy="766.6" r="0.73" fill="#c0ec60" opacity="0.18"/>
<circle cx="275.1" cy="768.7" r="0.51" fill="#c0ec60" opacity="0.21"/>
<circle cx="198.7" cy="766.1" r="0.74" fill="#c0ec60" opacity="0.47"/>
<circle cx="279.3" cy="769.8" r="0.59" fill="#c0ec60" opacity="0.48"/>
<circle cx="216.0" cy="767.0" r="0.96" fill="#c0ec60" opacity="0.40"/>
<circle cx="313.5" cy="770.6" r="0.73" fill="#c0ec60" opacity="0.18"/>
<circle cx="309.1" cy="769.7" r="0.70" fill="#c0ec60" opacity="0.42"/>
<circle cx="244.4" cy="768.2" r="0.64" fill="#c0ec60" opacity="0.16"/>
<circle cx="178.9" cy="765.5" r="0.86" fill="#c0ec60" opacity="0.16"/>
<circle cx="207.6" cy="763.8" r="0.58" fill="#c0ec60" opacity="0.40"/>
<circle cx="198.3" cy="766.1" r="0.94" fill="#c0ec60" opacity="0.38"/>
<circle cx="178.2" cy="765.4" r="0.93" fill="#c0ec60" opacity="0.29"/>
<circle cx="220.8" cy="766.9" r="1.02" fill="#c0ec60" opacity="0.23"/>
<circle cx="204.0" cy="764.8" r="0.52" fill="#c0ec60" opacity="0.16"/>
<circle cx="264.2" cy="769.2" r="0.84" fill="#c0ec60" opacity="0.43"/>
<circle cx="325.7" cy="767.6" r="1.05" fill="#c0ec60" opacity="0.23"/>
<circle cx="274.7" cy="771.5" r="0.90" fill="#c0ec60" opacity="0.48"/>
<circle cx="306.6" cy="770.0" r="0.55" fill="#c0ec60" opacity="0.30"/>
<circle cx="221.9" cy="767.8" r="0.54" fill="#c0ec60" opacity="0.28"/>
<circle cx="210.4" cy="764.3" r="0.60" fill="#c0ec60" opacity="0.29"/>
<circle cx="236.6" cy="766.5" r="0.60" fill="#c0ec60" opacity="0.38"/>
<circle cx="194.7" cy="766.3" r="0.75" fill="#c0ec60" opacity="0.20"/>
<circle cx="255.7" cy="768.4" r="0.92" fill="#c0ec60" opacity="0.34"/>
<circle cx="276.6" cy="771.1" r="0.72" fill="#c0ec60" opacity="0.17"/>
<circle cx="224.0" cy="766.0" r="0.53" fill="#c0ec60" opacity="0.32"/>
<circle cx="256.3" cy="766.6" r="0.65" fill="#c0ec60" opacity="0.16"/>
<path d="M158.0,762.0 L185.0,762.0 L185.0,768.0 L158.0,768.0Z" fill="#aee050" opacity="0.55" filter="url(#bl15)"/>
<path d="M158.0,762.0 L185.0,762.0 L185.0,768.0 L158.0,768.0Z" fill="#000" filter="url(#texI)" opacity="0.4"/>
<circle cx="167.4" cy="765.2" r="1.04" fill="#c0ec60" opacity="0.35"/>
<circle cx="165.1" cy="764.6" r="0.78" fill="#c0ec60" opacity="0.37"/>
<circle cx="183.8" cy="764.2" r="0.72" fill="#c0ec60" opacity="0.35"/>
<circle cx="183.4" cy="765.3" r="0.87" fill="#c0ec60" opacity="0.29"/>
<circle cx="169.2" cy="763.1" r="0.67" fill="#c0ec60" opacity="0.44"/>
<circle cx="181.8" cy="762.8" r="0.52" fill="#c0ec60" opacity="0.20"/>
<circle cx="171.7" cy="767.0" r="0.69" fill="#c0ec60" opacity="0.28"/>
<circle cx="184.4" cy="765.5" r="0.64" fill="#c0ec60" opacity="0.39"/>
<circle cx="164.3" cy="765.7" r="0.50" fill="#c0ec60" opacity="0.34"/>
<circle cx="168.6" cy="765.1" r="0.89" fill="#c0ec60" opacity="0.34"/>
<circle cx="174.9" cy="766.6" r="0.84" fill="#c0ec60" opacity="0.44"/>
<circle cx="184.2" cy="764.4" r="1.03" fill="#c0ec60" opacity="0.26"/>
<path d="M262.0,771.0 L285.0,770.5 L285.0,775.5 L262.0,775.0Z" fill="#aee050" opacity="0.47" filter="url(#bl15)"/>
<path d="M262.0,771.0 L285.0,770.5 L285.0,775.5 L262.0,775.0Z" fill="#000" filter="url(#texI)" opacity="0.4"/>
<circle cx="278.5" cy="773.8" r="0.92" fill="#c0ec60" opacity="0.39"/>
<circle cx="284.2" cy="773.3" r="0.87" fill="#c0ec60" opacity="0.32"/>
<circle cx="275.0" cy="772.5" r="0.72" fill="#c0ec60" opacity="0.25"/>
<circle cx="279.2" cy="772.2" r="0.65" fill="#c0ec60" opacity="0.26"/>
<circle cx="266.1" cy="772.9" r="0.81" fill="#c0ec60" opacity="0.19"/>
<circle cx="263.5" cy="773.4" r="0.92" fill="#c0ec60" opacity="0.19"/>
<circle cx="272.4" cy="773.2" r="0.96" fill="#c0ec60" opacity="0.32"/>
<circle cx="265.7" cy="774.3" r="0.53" fill="#c0ec60" opacity="0.24"/>
<path d="M305.0,765.0 L325.0,765.0 L325.0,771.0 L305.0,771.0Z" fill="#aee050" opacity="0.51" filter="url(#bl15)"/>
<path d="M305.0,765.0 L325.0,765.0 L325.0,771.0 L305.0,771.0Z" fill="#000" filter="url(#texI)" opacity="0.4"/>
<circle cx="315.1" cy="766.0" r="0.98" fill="#c0ec60" opacity="0.29"/>
<circle cx="319.3" cy="768.0" r="0.70" fill="#c0ec60" opacity="0.27"/>
<circle cx="320.2" cy="770.1" r="1.01" fill="#c0ec60" opacity="0.44"/>
<circle cx="316.3" cy="766.1" r="0.87" fill="#c0ec60" opacity="0.44"/>
<circle cx="321.0" cy="769.0" r="0.58" fill="#c0ec60" opacity="0.28"/>
<circle cx="318.4" cy="768.1" r="0.51" fill="#c0ec60" opacity="0.35"/>
<circle cx="323.8" cy="768.9" r="1.08" fill="#c0ec60" opacity="0.20"/>
<circle cx="318.8" cy="766.3" r="0.74" fill="#c0ec60" opacity="0.48"/>
</g>
<clipPath id="i6"><rect x="152.4" y="778.7" width="172.6" height="20.399999999999977"/></clipPath>
<g clip-path="url(#i6)">
<rect x="152.4" y="778.7" width="172.6" height="20.399999999999977" fill="#80827a" stroke="none" stroke-width="0" />
<path d="M150.0,782.0 L200.0,783.0 L250.0,781.0 L300.0,780.0 L330.0,780.0 L330.0,792.0 L300.0,792.0 L250.0,793.0 L200.0,795.0 L150.0,794.0Z" fill="#878a81" stroke="#a4a69e" stroke-width="0.7" opacity="0.9"/>
<path d="M150.0,785.5 L200.0,788.0 L240.0,785.0 L280.0,784.0 L305.0,782.5 L330.0,782.5 L330.0,789.5 L305.0,789.5 L280.0,790.0 L240.0,791.0 L200.0,794.0 L150.0,792.5Z" fill="#9cc84c" opacity="0.55" filter="url(#bl15)"/>
<path d="M150.0,785.5 L200.0,788.0 L240.0,785.0 L280.0,784.0 L305.0,782.5 L330.0,782.5 L330.0,789.5 L305.0,789.5 L280.0,790.0 L240.0,791.0 L200.0,794.0 L150.0,792.5Z" fill="#000" filter="url(#texI)" opacity="0.4"/>
<circle cx="328.0" cy="787.1" r="0.53" fill="#c0ec60" opacity="0.40"/>
<circle cx="171.3" cy="791.0" r="0.94" fill="#c0ec60" opacity="0.50"/>
<circle cx="171.6" cy="790.2" r="0.70" fill="#c0ec60" opacity="0.16"/>
<circle cx="247.7" cy="786.5" r="0.69" fill="#c0ec60" opacity="0.43"/>
<circle cx="301.0" cy="786.3" r="0.67" fill="#c0ec60" opacity="0.29"/>
<circle cx="261.2" cy="787.8" r="0.73" fill="#c0ec60" opacity="0.39"/>
<circle cx="248.3" cy="784.0" r="0.98" fill="#c0ec60" opacity="0.20"/>
<circle cx="181.5" cy="792.9" r="0.65" fill="#c0ec60" opacity="0.32"/>
<circle cx="171.7" cy="792.0" r="0.69" fill="#c0ec60" opacity="0.16"/>
<circle cx="251.9" cy="788.9" r="0.66" fill="#c0ec60" opacity="0.23"/>
<circle cx="236.8" cy="789.7" r="0.72" fill="#c0ec60" opacity="0.24"/>
<circle cx="159.2" cy="792.3" r="0.69" fill="#c0ec60" opacity="0.18"/>
<circle cx="182.8" cy="791.5" r="0.79" fill="#c0ec60" opacity="0.50"/>
<circle cx="186.4" cy="791.5" r="0.75" fill="#c0ec60" opacity="0.43"/>
<circle cx="221.3" cy="788.3" r="0.53" fill="#c0ec60" opacity="0.34"/>
<circle cx="268.2" cy="786.5" r="1.06" fill="#c0ec60" opacity="0.45"/>
<circle cx="329.0" cy="785.1" r="0.77" fill="#c0ec60" opacity="0.44"/>
<circle cx="280.5" cy="787.1" r="0.60" fill="#c0ec60" opacity="0.19"/>
<circle cx="163.4" cy="789.9" r="0.72" fill="#c0ec60" opacity="0.41"/>
<circle cx="205.8" cy="790.4" r="0.63" fill="#c0ec60" opacity="0.49"/>
<circle cx="152.0" cy="789.1" r="0.82" fill="#c0ec60" opacity="0.43"/>
<circle cx="292.6" cy="786.4" r="0.98" fill="#c0ec60" opacity="0.44"/>
<circle cx="288.2" cy="785.2" r="1.09" fill="#c0ec60" opacity="0.19"/>
<circle cx="321.1" cy="784.0" r="0.65" fill="#c0ec60" opacity="0.47"/>
<circle cx="154.2" cy="790.6" r="0.85" fill="#c0ec60" opacity="0.23"/>
<circle cx="219.9" cy="788.2" r="0.99" fill="#c0ec60" opacity="0.28"/>
<circle cx="264.8" cy="788.8" r="0.71" fill="#c0ec60" opacity="0.25"/>
<circle cx="312.9" cy="785.7" r="0.70" fill="#c0ec60" opacity="0.41"/>
<circle cx="188.0" cy="791.1" r="0.95" fill="#c0ec60" opacity="0.34"/>
<circle cx="272.4" cy="787.5" r="0.59" fill="#c0ec60" opacity="0.27"/>
<circle cx="227.5" cy="789.5" r="0.51" fill="#c0ec60" opacity="0.33"/>
<circle cx="222.6" cy="788.6" r="1.07" fill="#c0ec60" opacity="0.22"/>
<circle cx="308.5" cy="787.8" r="0.69" fill="#c0ec60" opacity="0.41"/>
<circle cx="169.5" cy="791.4" r="1.08" fill="#c0ec60" opacity="0.23"/>
<circle cx="223.5" cy="789.1" r="0.92" fill="#c0ec60" opacity="0.21"/>
<circle cx="199.2" cy="789.5" r="0.69" fill="#c0ec60" opacity="0.21"/>
<circle cx="214.3" cy="787.0" r="1.09" fill="#c0ec60" opacity="0.20"/>
<circle cx="264.3" cy="786.0" r="0.63" fill="#c0ec60" opacity="0.37"/>
<circle cx="309.8" cy="787.6" r="1.01" fill="#c0ec60" opacity="0.37"/>
<circle cx="240.9" cy="787.4" r="1.00" fill="#c0ec60" opacity="0.39"/>
<circle cx="231.6" cy="788.4" r="0.90" fill="#c0ec60" opacity="0.30"/>
<circle cx="219.2" cy="789.8" r="0.84" fill="#c0ec60" opacity="0.33"/>
<circle cx="155.8" cy="791.3" r="0.88" fill="#c0ec60" opacity="0.31"/>
<circle cx="256.8" cy="785.0" r="0.59" fill="#c0ec60" opacity="0.31"/>
<circle cx="328.7" cy="784.0" r="0.94" fill="#c0ec60" opacity="0.26"/>
<circle cx="282.6" cy="788.3" r="1.02" fill="#c0ec60" opacity="0.19"/>
<circle cx="328.2" cy="785.9" r="0.79" fill="#c0ec60" opacity="0.23"/>
<circle cx="301.2" cy="784.0" r="1.00" fill="#c0ec60" opacity="0.43"/>
<circle cx="242.1" cy="785.4" r="1.10" fill="#c0ec60" opacity="0.17"/>
<circle cx="306.6" cy="785.7" r="0.98" fill="#c0ec60" opacity="0.31"/>
<path d="M150.0,784.0 L162.0,785.0 L162.0,791.0 L150.0,792.0Z" fill="#aee050" opacity="0.55" filter="url(#bl15)"/>
<path d="M150.0,784.0 L162.0,785.0 L162.0,791.0 L150.0,792.0Z" fill="#000" filter="url(#texI)" opacity="0.4"/>
<circle cx="156.4" cy="786.9" r="1.02" fill="#c0ec60" opacity="0.22"/>
<circle cx="153.4" cy="787.6" r="0.83" fill="#c0ec60" opacity="0.43"/>
<circle cx="155.9" cy="787.5" r="0.65" fill="#c0ec60" opacity="0.43"/>
<circle cx="160.3" cy="788.2" r="1.04" fill="#c0ec60" opacity="0.43"/>
<circle cx="151.8" cy="785.8" r="0.72" fill="#c0ec60" opacity="0.19"/>
<circle cx="150.4" cy="786.0" r="1.00" fill="#c0ec60" opacity="0.19"/>
<circle cx="152.2" cy="790.8" r="0.73" fill="#c0ec60" opacity="0.45"/>
<circle cx="157.4" cy="788.5" r="1.09" fill="#c0ec60" opacity="0.22"/>
<path d="M290.0,784.0 L300.0,782.5 L320.0,782.5 L326.0,784.0 L326.0,788.0 L320.0,789.5 L300.0,789.5 L290.0,788.0Z" fill="#c0f060" opacity="0.72" filter="url(#bl15)"/>
<path d="M290.0,784.0 L300.0,782.5 L320.0,782.5 L326.0,784.0 L326.0,788.0 L320.0,789.5 L300.0,789.5 L290.0,788.0Z" fill="#000" filter="url(#texI)" opacity="0.4"/>
<circle cx="312.7" cy="785.6" r="1.03" fill="#c0ec60" opacity="0.40"/>
<circle cx="297.1" cy="785.3" r="0.51" fill="#c0ec60" opacity="0.27"/>
<circle cx="301.4" cy="784.5" r="0.88" fill="#c0ec60" opacity="0.25"/>
<circle cx="311.7" cy="785.7" r="0.58" fill="#c0ec60" opacity="0.39"/>
<circle cx="306.8" cy="785.1" r="0.58" fill="#c0ec60" opacity="0.19"/>
<circle cx="323.9" cy="785.2" r="0.62" fill="#c0ec60" opacity="0.50"/>
<circle cx="314.9" cy="785.1" r="0.94" fill="#c0ec60" opacity="0.28"/>
<circle cx="301.2" cy="785.3" r="0.88" fill="#c0ec60" opacity="0.30"/>
<circle cx="319.5" cy="786.5" r="0.75" fill="#c0ec60" opacity="0.31"/>
<circle cx="308.2" cy="787.4" r="0.92" fill="#c0ec60" opacity="0.23"/>
<circle cx="310.9" cy="785.5" r="0.67" fill="#c0ec60" opacity="0.46"/>
<circle cx="300.3" cy="787.4" r="0.77" fill="#c0ec60" opacity="0.48"/>
</g>
<line x1="152.4" y1="757.0" x2="325.0" y2="757.0" stroke="#d8dad4" stroke-width="1.4" />
<line x1="152.4" y1="778.1" x2="325.0" y2="778.1" stroke="#d8dad4" stroke-width="1.4" />
<text x="155.6" y="681.8" font-size="11" font-weight="bold" fill="#000" textLength="16.2" lengthAdjust="spacingAndGlyphs">wt</text>
<text x="155.1" y="750.5" font-size="12.5" font-weight="bold" fill="#111" textLength="32.8" lengthAdjust="spacingAndGlyphs">hsf-1</text>
<text x="188.4" y="742.8" font-size="7.6" font-weight="bold" fill="#111" textLength="25.6" lengthAdjust="spacingAndGlyphs">neuro</text>
<text x="212.7" y="750.5" font-size="12.5" font-weight="bold" fill="#111" textLength="14.1" lengthAdjust="spacingAndGlyphs">#1</text>
<rect x="280" y="803.7" width="44.9" height="2.1" fill="#000" stroke="none" stroke-width="0" />
</svg></body></html>
